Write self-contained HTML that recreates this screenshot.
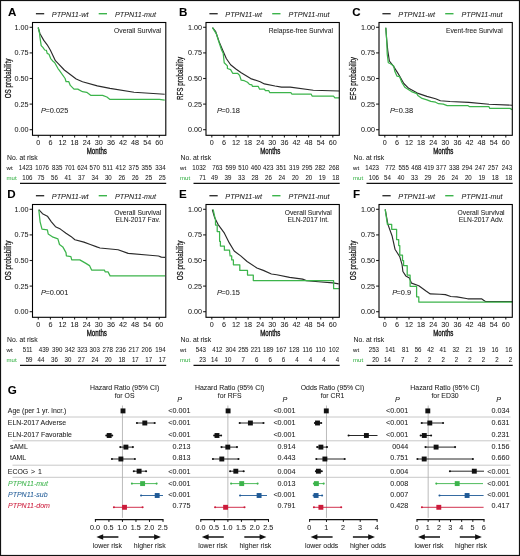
<!DOCTYPE html>
<html><head><meta charset="utf-8"><style>
html,body{margin:0;padding:0;background:#fff;}
svg{display:block;will-change:transform;}
text{font-family:"Liberation Sans",sans-serif;}
</style></head><body>
<svg width="520" height="556" viewBox="0 0 520 556" font-family="Liberation Sans, sans-serif">
<rect x="0" y="0" width="520" height="556" fill="#fff"/>
<text x="7.90" y="16.40" font-size="11.6" fill="#000" font-weight="bold" stroke="#000" stroke-width="0.05">A</text>
<line x1="35.90" y1="13.70" x2="44.20" y2="13.70" stroke="#333" stroke-width="1.4"/>
<text x="51.80" y="16.70" font-size="7.3" fill="#222" font-style="italic" stroke="#222" stroke-width="0.05">PTPN11-wt</text>
<line x1="98.70" y1="13.70" x2="107.00" y2="13.70" stroke="#3cb44b" stroke-width="1.4"/>
<text x="115.00" y="16.70" font-size="7.2" fill="#222" font-style="italic" stroke="#222" stroke-width="0.05">PTPN11-mut</text>
<line x1="29.60" y1="27.30" x2="32.40" y2="27.30" stroke="#222" stroke-width="1.1"/>
<text x="28.60" y="29.80" font-size="7.2" text-anchor="end" fill="#222" stroke="#222" stroke-width="0.05">1.00</text>
<line x1="29.60" y1="52.90" x2="32.40" y2="52.90" stroke="#222" stroke-width="1.1"/>
<text x="28.60" y="55.40" font-size="7.2" text-anchor="end" fill="#222" stroke="#222" stroke-width="0.05">0.75</text>
<line x1="29.60" y1="78.50" x2="32.40" y2="78.50" stroke="#222" stroke-width="1.1"/>
<text x="28.60" y="81.00" font-size="7.2" text-anchor="end" fill="#222" stroke="#222" stroke-width="0.05">0.50</text>
<line x1="29.60" y1="104.10" x2="32.40" y2="104.10" stroke="#222" stroke-width="1.1"/>
<text x="28.60" y="106.60" font-size="7.2" text-anchor="end" fill="#222" stroke="#222" stroke-width="0.05">0.25</text>
<line x1="29.60" y1="129.70" x2="32.40" y2="129.70" stroke="#222" stroke-width="1.1"/>
<text x="28.60" y="132.20" font-size="7.2" text-anchor="end" fill="#222" stroke="#222" stroke-width="0.05">0.00</text>
<line x1="38.30" y1="135.30" x2="38.30" y2="137.40" stroke="#222" stroke-width="1.1"/>
<text x="38.30" y="144.70" font-size="7.2" text-anchor="middle" fill="#222" stroke="#222" stroke-width="0.05">0</text>
<line x1="50.40" y1="135.30" x2="50.40" y2="137.40" stroke="#222" stroke-width="1.1"/>
<text x="50.40" y="144.70" font-size="7.2" text-anchor="middle" fill="#222" stroke="#222" stroke-width="0.05">6</text>
<line x1="62.50" y1="135.30" x2="62.50" y2="137.40" stroke="#222" stroke-width="1.1"/>
<text x="62.50" y="144.70" font-size="7.2" text-anchor="middle" fill="#222" stroke="#222" stroke-width="0.05">12</text>
<line x1="74.60" y1="135.30" x2="74.60" y2="137.40" stroke="#222" stroke-width="1.1"/>
<text x="74.60" y="144.70" font-size="7.2" text-anchor="middle" fill="#222" stroke="#222" stroke-width="0.05">18</text>
<line x1="86.70" y1="135.30" x2="86.70" y2="137.40" stroke="#222" stroke-width="1.1"/>
<text x="86.70" y="144.70" font-size="7.2" text-anchor="middle" fill="#222" stroke="#222" stroke-width="0.05">24</text>
<line x1="98.80" y1="135.30" x2="98.80" y2="137.40" stroke="#222" stroke-width="1.1"/>
<text x="98.80" y="144.70" font-size="7.2" text-anchor="middle" fill="#222" stroke="#222" stroke-width="0.05">30</text>
<line x1="110.90" y1="135.30" x2="110.90" y2="137.40" stroke="#222" stroke-width="1.1"/>
<text x="110.90" y="144.70" font-size="7.2" text-anchor="middle" fill="#222" stroke="#222" stroke-width="0.05">36</text>
<line x1="123.00" y1="135.30" x2="123.00" y2="137.40" stroke="#222" stroke-width="1.1"/>
<text x="123.00" y="144.70" font-size="7.2" text-anchor="middle" fill="#222" stroke="#222" stroke-width="0.05">42</text>
<line x1="135.10" y1="135.30" x2="135.10" y2="137.40" stroke="#222" stroke-width="1.1"/>
<text x="135.10" y="144.70" font-size="7.2" text-anchor="middle" fill="#222" stroke="#222" stroke-width="0.05">48</text>
<line x1="147.20" y1="135.30" x2="147.20" y2="137.40" stroke="#222" stroke-width="1.1"/>
<text x="147.20" y="144.70" font-size="7.2" text-anchor="middle" fill="#222" stroke="#222" stroke-width="0.05">54</text>
<line x1="159.30" y1="135.30" x2="159.30" y2="137.40" stroke="#222" stroke-width="1.1"/>
<text x="159.30" y="144.70" font-size="7.2" text-anchor="middle" fill="#222" stroke="#222" stroke-width="0.05">60</text>
<text transform="translate(96.80,153.90) scale(0.655,1)" font-size="9.4" text-anchor="middle" fill="#111" stroke="#111" stroke-width="0.38" stroke="#111" stroke-width="0.05">Months</text>
<text transform="translate(11.00,78.50) rotate(-90) scale(0.645,1)" font-size="9.8" text-anchor="middle" fill="#111" stroke="#111" stroke-width="0.25" stroke="#111" stroke-width="0.05">OS probability</text>
<polyline points="38.20,27.50 39.90,33.50 43.80,40.40 47.20,44.80 50.30,50.00 55.40,60.70 58.50,63.80 64.30,70.00 76.20,79.00 82.50,81.70 97.30,85.90 110.00,88.40 134.00,92.20 164.70,94.30" fill="none" stroke="#2a2a2a" stroke-width="1.15" stroke-linejoin="round"/>
<polyline points="38.20,27.50 39.60,33.50 39.90,37.00 41.20,45.60 42.90,47.40 44.70,50.00 46.40,50.40 47.20,53.40 49.00,54.30 50.70,58.60 52.90,61.20 54.60,62.50 58.00,68.50 59.20,70.10 65.10,78.50 66.10,81.70 68.80,81.70 70.30,85.40 74.00,89.10 77.80,89.10 82.50,91.70 86.70,92.30 91.00,95.40 102.60,95.40 106.90,97.00 110.00,99.40 159.40,99.40 164.70,100.20" fill="none" stroke="#3cb44b" stroke-width="1.25" stroke-linejoin="round"/>
<rect x="32.50" y="22.50" width="133.3" height="112.8" fill="none" stroke="#000" stroke-width="1.1"/>
<text x="137.60" y="32.50" font-size="6.72" text-anchor="middle" fill="#222" stroke="#222" stroke-width="0.05">Overall Survival</text>
<text x="41.10" y="112.50" font-size="7.4" fill="#222" stroke="#222" stroke-width="0.05"><tspan font-style="italic">P</tspan><tspan dx="-0.6">=0.025</tspan></text>
<text x="7.00" y="159.80" font-size="6.8" fill="#222" stroke="#222" stroke-width="0.05">No. at risk</text>
<text x="6.60" y="169.50" font-size="6.0" fill="#222" stroke="#222" stroke-width="0.05">wt</text>
<text x="6.60" y="179.80" font-size="6.0" fill="#3cb44b" stroke="#3cb44b" stroke-width="0.05">mut</text>
<text transform="translate(32.50,169.50) scale(0.93,1)" font-size="6.6" text-anchor="end" fill="#222" stroke="#222" stroke-width="0.05">1423</text>
<text transform="translate(49.00,169.50) scale(0.93,1)" font-size="6.6" text-anchor="end" fill="#222" stroke="#222" stroke-width="0.05">1076</text>
<text transform="translate(62.30,169.50) scale(0.93,1)" font-size="6.6" text-anchor="end" fill="#222" stroke="#222" stroke-width="0.05">835</text>
<text transform="translate(75.00,169.50) scale(0.93,1)" font-size="6.6" text-anchor="end" fill="#222" stroke="#222" stroke-width="0.05">701</text>
<text transform="translate(87.50,169.50) scale(0.93,1)" font-size="6.6" text-anchor="end" fill="#222" stroke="#222" stroke-width="0.05">624</text>
<text transform="translate(99.80,169.50) scale(0.93,1)" font-size="6.6" text-anchor="end" fill="#222" stroke="#222" stroke-width="0.05">570</text>
<text transform="translate(112.80,169.50) scale(0.93,1)" font-size="6.6" text-anchor="end" fill="#222" stroke="#222" stroke-width="0.05">511</text>
<text transform="translate(125.80,169.50) scale(0.93,1)" font-size="6.6" text-anchor="end" fill="#222" stroke="#222" stroke-width="0.05">412</text>
<text transform="translate(138.80,169.50) scale(0.93,1)" font-size="6.6" text-anchor="end" fill="#222" stroke="#222" stroke-width="0.05">375</text>
<text transform="translate(151.80,169.50) scale(0.93,1)" font-size="6.6" text-anchor="end" fill="#222" stroke="#222" stroke-width="0.05">355</text>
<text transform="translate(165.60,169.50) scale(0.93,1)" font-size="6.6" text-anchor="end" fill="#222" stroke="#222" stroke-width="0.05">334</text>
<text transform="translate(32.50,179.80) scale(0.93,1)" font-size="6.6" text-anchor="end" fill="#222" stroke="#222" stroke-width="0.05">106</text>
<text transform="translate(44.30,179.80) scale(0.93,1)" font-size="6.6" text-anchor="end" fill="#222" stroke="#222" stroke-width="0.05">75</text>
<text transform="translate(57.80,179.80) scale(0.93,1)" font-size="6.6" text-anchor="end" fill="#222" stroke="#222" stroke-width="0.05">56</text>
<text transform="translate(71.30,179.80) scale(0.93,1)" font-size="6.6" text-anchor="end" fill="#222" stroke="#222" stroke-width="0.05">41</text>
<text transform="translate(84.90,179.80) scale(0.93,1)" font-size="6.6" text-anchor="end" fill="#222" stroke="#222" stroke-width="0.05">37</text>
<text transform="translate(98.30,179.80) scale(0.93,1)" font-size="6.6" text-anchor="end" fill="#222" stroke="#222" stroke-width="0.05">34</text>
<text transform="translate(111.70,179.80) scale(0.93,1)" font-size="6.6" text-anchor="end" fill="#222" stroke="#222" stroke-width="0.05">30</text>
<text transform="translate(125.20,179.80) scale(0.93,1)" font-size="6.6" text-anchor="end" fill="#222" stroke="#222" stroke-width="0.05">26</text>
<text transform="translate(138.70,179.80) scale(0.93,1)" font-size="6.6" text-anchor="end" fill="#222" stroke="#222" stroke-width="0.05">26</text>
<text transform="translate(152.10,179.80) scale(0.93,1)" font-size="6.6" text-anchor="end" fill="#222" stroke="#222" stroke-width="0.05">25</text>
<text transform="translate(165.60,179.80) scale(0.93,1)" font-size="6.6" text-anchor="end" fill="#222" stroke="#222" stroke-width="0.05">25</text>
<line x1="20.00" y1="183.40" x2="166.20" y2="183.40" stroke="#111" stroke-width="1.1"/>
<text x="179.10" y="16.40" font-size="11.6" fill="#000" font-weight="bold" stroke="#000" stroke-width="0.05">B</text>
<line x1="209.40" y1="13.70" x2="217.70" y2="13.70" stroke="#333" stroke-width="1.4"/>
<text x="225.30" y="16.70" font-size="7.3" fill="#222" font-style="italic" stroke="#222" stroke-width="0.05">PTPN11-wt</text>
<line x1="272.20" y1="13.70" x2="280.50" y2="13.70" stroke="#3cb44b" stroke-width="1.4"/>
<text x="288.50" y="16.70" font-size="7.2" fill="#222" font-style="italic" stroke="#222" stroke-width="0.05">PTPN11-mut</text>
<line x1="203.10" y1="27.30" x2="205.90" y2="27.30" stroke="#222" stroke-width="1.1"/>
<text x="202.10" y="29.80" font-size="7.2" text-anchor="end" fill="#222" stroke="#222" stroke-width="0.05">1.00</text>
<line x1="203.10" y1="52.90" x2="205.90" y2="52.90" stroke="#222" stroke-width="1.1"/>
<text x="202.10" y="55.40" font-size="7.2" text-anchor="end" fill="#222" stroke="#222" stroke-width="0.05">0.75</text>
<line x1="203.10" y1="78.50" x2="205.90" y2="78.50" stroke="#222" stroke-width="1.1"/>
<text x="202.10" y="81.00" font-size="7.2" text-anchor="end" fill="#222" stroke="#222" stroke-width="0.05">0.50</text>
<line x1="203.10" y1="104.10" x2="205.90" y2="104.10" stroke="#222" stroke-width="1.1"/>
<text x="202.10" y="106.60" font-size="7.2" text-anchor="end" fill="#222" stroke="#222" stroke-width="0.05">0.25</text>
<line x1="203.10" y1="129.70" x2="205.90" y2="129.70" stroke="#222" stroke-width="1.1"/>
<text x="202.10" y="132.20" font-size="7.2" text-anchor="end" fill="#222" stroke="#222" stroke-width="0.05">0.00</text>
<line x1="211.80" y1="135.30" x2="211.80" y2="137.40" stroke="#222" stroke-width="1.1"/>
<text x="211.80" y="144.70" font-size="7.2" text-anchor="middle" fill="#222" stroke="#222" stroke-width="0.05">0</text>
<line x1="223.90" y1="135.30" x2="223.90" y2="137.40" stroke="#222" stroke-width="1.1"/>
<text x="223.90" y="144.70" font-size="7.2" text-anchor="middle" fill="#222" stroke="#222" stroke-width="0.05">6</text>
<line x1="236.00" y1="135.30" x2="236.00" y2="137.40" stroke="#222" stroke-width="1.1"/>
<text x="236.00" y="144.70" font-size="7.2" text-anchor="middle" fill="#222" stroke="#222" stroke-width="0.05">12</text>
<line x1="248.10" y1="135.30" x2="248.10" y2="137.40" stroke="#222" stroke-width="1.1"/>
<text x="248.10" y="144.70" font-size="7.2" text-anchor="middle" fill="#222" stroke="#222" stroke-width="0.05">18</text>
<line x1="260.20" y1="135.30" x2="260.20" y2="137.40" stroke="#222" stroke-width="1.1"/>
<text x="260.20" y="144.70" font-size="7.2" text-anchor="middle" fill="#222" stroke="#222" stroke-width="0.05">24</text>
<line x1="272.30" y1="135.30" x2="272.30" y2="137.40" stroke="#222" stroke-width="1.1"/>
<text x="272.30" y="144.70" font-size="7.2" text-anchor="middle" fill="#222" stroke="#222" stroke-width="0.05">30</text>
<line x1="284.40" y1="135.30" x2="284.40" y2="137.40" stroke="#222" stroke-width="1.1"/>
<text x="284.40" y="144.70" font-size="7.2" text-anchor="middle" fill="#222" stroke="#222" stroke-width="0.05">36</text>
<line x1="296.50" y1="135.30" x2="296.50" y2="137.40" stroke="#222" stroke-width="1.1"/>
<text x="296.50" y="144.70" font-size="7.2" text-anchor="middle" fill="#222" stroke="#222" stroke-width="0.05">42</text>
<line x1="308.60" y1="135.30" x2="308.60" y2="137.40" stroke="#222" stroke-width="1.1"/>
<text x="308.60" y="144.70" font-size="7.2" text-anchor="middle" fill="#222" stroke="#222" stroke-width="0.05">48</text>
<line x1="320.70" y1="135.30" x2="320.70" y2="137.40" stroke="#222" stroke-width="1.1"/>
<text x="320.70" y="144.70" font-size="7.2" text-anchor="middle" fill="#222" stroke="#222" stroke-width="0.05">54</text>
<line x1="332.80" y1="135.30" x2="332.80" y2="137.40" stroke="#222" stroke-width="1.1"/>
<text x="332.80" y="144.70" font-size="7.2" text-anchor="middle" fill="#222" stroke="#222" stroke-width="0.05">60</text>
<text transform="translate(270.30,153.90) scale(0.655,1)" font-size="9.4" text-anchor="middle" fill="#111" stroke="#111" stroke-width="0.38" stroke="#111" stroke-width="0.05">Months</text>
<text transform="translate(183.30,78.50) rotate(-90) scale(0.645,1)" font-size="9.8" text-anchor="middle" fill="#111" stroke="#111" stroke-width="0.25" stroke="#111" stroke-width="0.05">RFS probability</text>
<polyline points="212.50,27.70 215.70,31.70 219.00,41.40 222.60,50.00 226.30,58.50 230.60,64.80 235.90,69.00 241.20,72.80 250.70,78.60 260.20,81.70 264.40,83.90 275.00,86.00 281.50,87.10 290.20,87.10 313.30,90.30 339.20,91.00" fill="none" stroke="#2a2a2a" stroke-width="1.15" stroke-linejoin="round"/>
<polyline points="212.50,27.70 216.50,34.20 219.00,42.30 221.60,50.00 223.20,53.20 224.20,62.70 227.40,65.90 227.40,68.50 230.60,69.60 232.70,73.30 237.50,73.30 239.60,75.40 241.20,80.20 244.30,80.70 247.50,82.30 249.50,84.40 251.90,84.90 252.40,86.30 258.20,86.30 259.60,89.20 264.40,89.20 265.40,90.70 268.80,90.70 269.70,92.60 290.90,92.60 291.80,94.00 311.10,94.00 312.10,96.10 333.50,96.10 334.90,97.80 339.20,97.80" fill="none" stroke="#3cb44b" stroke-width="1.25" stroke-linejoin="round"/>
<rect x="206.00" y="22.50" width="133.3" height="112.8" fill="none" stroke="#000" stroke-width="1.1"/>
<text x="300.85" y="32.50" font-size="6.72" text-anchor="middle" fill="#222" stroke="#222" stroke-width="0.05">Relapse-free Survival</text>
<text x="216.90" y="112.50" font-size="7.4" fill="#222" stroke="#222" stroke-width="0.05"><tspan font-style="italic">P</tspan><tspan dx="-0.6">=0.18</tspan></text>
<text x="180.50" y="159.80" font-size="6.8" fill="#222" stroke="#222" stroke-width="0.05">No. at risk</text>
<text x="180.10" y="169.50" font-size="6.0" fill="#222" stroke="#222" stroke-width="0.05">wt</text>
<text x="180.10" y="179.80" font-size="6.0" fill="#3cb44b" stroke="#3cb44b" stroke-width="0.05">mut</text>
<text transform="translate(206.00,169.50) scale(0.93,1)" font-size="6.6" text-anchor="end" fill="#222" stroke="#222" stroke-width="0.05">1032</text>
<text transform="translate(222.50,169.50) scale(0.93,1)" font-size="6.6" text-anchor="end" fill="#222" stroke="#222" stroke-width="0.05">763</text>
<text transform="translate(235.80,169.50) scale(0.93,1)" font-size="6.6" text-anchor="end" fill="#222" stroke="#222" stroke-width="0.05">599</text>
<text transform="translate(248.50,169.50) scale(0.93,1)" font-size="6.6" text-anchor="end" fill="#222" stroke="#222" stroke-width="0.05">510</text>
<text transform="translate(261.00,169.50) scale(0.93,1)" font-size="6.6" text-anchor="end" fill="#222" stroke="#222" stroke-width="0.05">460</text>
<text transform="translate(273.30,169.50) scale(0.93,1)" font-size="6.6" text-anchor="end" fill="#222" stroke="#222" stroke-width="0.05">423</text>
<text transform="translate(286.30,169.50) scale(0.93,1)" font-size="6.6" text-anchor="end" fill="#222" stroke="#222" stroke-width="0.05">351</text>
<text transform="translate(299.30,169.50) scale(0.93,1)" font-size="6.6" text-anchor="end" fill="#222" stroke="#222" stroke-width="0.05">319</text>
<text transform="translate(312.30,169.50) scale(0.93,1)" font-size="6.6" text-anchor="end" fill="#222" stroke="#222" stroke-width="0.05">295</text>
<text transform="translate(325.30,169.50) scale(0.93,1)" font-size="6.6" text-anchor="end" fill="#222" stroke="#222" stroke-width="0.05">282</text>
<text transform="translate(339.10,169.50) scale(0.93,1)" font-size="6.6" text-anchor="end" fill="#222" stroke="#222" stroke-width="0.05">268</text>
<text transform="translate(206.00,179.80) scale(0.93,1)" font-size="6.6" text-anchor="end" fill="#222" stroke="#222" stroke-width="0.05">71</text>
<text transform="translate(217.80,179.80) scale(0.93,1)" font-size="6.6" text-anchor="end" fill="#222" stroke="#222" stroke-width="0.05">49</text>
<text transform="translate(231.30,179.80) scale(0.93,1)" font-size="6.6" text-anchor="end" fill="#222" stroke="#222" stroke-width="0.05">39</text>
<text transform="translate(244.80,179.80) scale(0.93,1)" font-size="6.6" text-anchor="end" fill="#222" stroke="#222" stroke-width="0.05">33</text>
<text transform="translate(258.40,179.80) scale(0.93,1)" font-size="6.6" text-anchor="end" fill="#222" stroke="#222" stroke-width="0.05">28</text>
<text transform="translate(271.80,179.80) scale(0.93,1)" font-size="6.6" text-anchor="end" fill="#222" stroke="#222" stroke-width="0.05">26</text>
<text transform="translate(285.20,179.80) scale(0.93,1)" font-size="6.6" text-anchor="end" fill="#222" stroke="#222" stroke-width="0.05">24</text>
<text transform="translate(298.70,179.80) scale(0.93,1)" font-size="6.6" text-anchor="end" fill="#222" stroke="#222" stroke-width="0.05">20</text>
<text transform="translate(312.20,179.80) scale(0.93,1)" font-size="6.6" text-anchor="end" fill="#222" stroke="#222" stroke-width="0.05">20</text>
<text transform="translate(325.60,179.80) scale(0.93,1)" font-size="6.6" text-anchor="end" fill="#222" stroke="#222" stroke-width="0.05">19</text>
<text transform="translate(339.10,179.80) scale(0.93,1)" font-size="6.6" text-anchor="end" fill="#222" stroke="#222" stroke-width="0.05">18</text>
<line x1="193.50" y1="183.40" x2="339.70" y2="183.40" stroke="#111" stroke-width="1.1"/>
<text x="352.20" y="16.40" font-size="11.6" fill="#000" font-weight="bold" stroke="#000" stroke-width="0.05">C</text>
<line x1="382.40" y1="13.70" x2="390.70" y2="13.70" stroke="#333" stroke-width="1.4"/>
<text x="398.30" y="16.70" font-size="7.3" fill="#222" font-style="italic" stroke="#222" stroke-width="0.05">PTPN11-wt</text>
<line x1="445.20" y1="13.70" x2="453.50" y2="13.70" stroke="#3cb44b" stroke-width="1.4"/>
<text x="461.50" y="16.70" font-size="7.2" fill="#222" font-style="italic" stroke="#222" stroke-width="0.05">PTPN11-mut</text>
<line x1="376.10" y1="27.30" x2="378.90" y2="27.30" stroke="#222" stroke-width="1.1"/>
<text x="375.10" y="29.80" font-size="7.2" text-anchor="end" fill="#222" stroke="#222" stroke-width="0.05">1.00</text>
<line x1="376.10" y1="52.90" x2="378.90" y2="52.90" stroke="#222" stroke-width="1.1"/>
<text x="375.10" y="55.40" font-size="7.2" text-anchor="end" fill="#222" stroke="#222" stroke-width="0.05">0.75</text>
<line x1="376.10" y1="78.50" x2="378.90" y2="78.50" stroke="#222" stroke-width="1.1"/>
<text x="375.10" y="81.00" font-size="7.2" text-anchor="end" fill="#222" stroke="#222" stroke-width="0.05">0.50</text>
<line x1="376.10" y1="104.10" x2="378.90" y2="104.10" stroke="#222" stroke-width="1.1"/>
<text x="375.10" y="106.60" font-size="7.2" text-anchor="end" fill="#222" stroke="#222" stroke-width="0.05">0.25</text>
<line x1="376.10" y1="129.70" x2="378.90" y2="129.70" stroke="#222" stroke-width="1.1"/>
<text x="375.10" y="132.20" font-size="7.2" text-anchor="end" fill="#222" stroke="#222" stroke-width="0.05">0.00</text>
<line x1="384.80" y1="135.30" x2="384.80" y2="137.40" stroke="#222" stroke-width="1.1"/>
<text x="384.80" y="144.70" font-size="7.2" text-anchor="middle" fill="#222" stroke="#222" stroke-width="0.05">0</text>
<line x1="396.90" y1="135.30" x2="396.90" y2="137.40" stroke="#222" stroke-width="1.1"/>
<text x="396.90" y="144.70" font-size="7.2" text-anchor="middle" fill="#222" stroke="#222" stroke-width="0.05">6</text>
<line x1="409.00" y1="135.30" x2="409.00" y2="137.40" stroke="#222" stroke-width="1.1"/>
<text x="409.00" y="144.70" font-size="7.2" text-anchor="middle" fill="#222" stroke="#222" stroke-width="0.05">12</text>
<line x1="421.10" y1="135.30" x2="421.10" y2="137.40" stroke="#222" stroke-width="1.1"/>
<text x="421.10" y="144.70" font-size="7.2" text-anchor="middle" fill="#222" stroke="#222" stroke-width="0.05">18</text>
<line x1="433.20" y1="135.30" x2="433.20" y2="137.40" stroke="#222" stroke-width="1.1"/>
<text x="433.20" y="144.70" font-size="7.2" text-anchor="middle" fill="#222" stroke="#222" stroke-width="0.05">24</text>
<line x1="445.30" y1="135.30" x2="445.30" y2="137.40" stroke="#222" stroke-width="1.1"/>
<text x="445.30" y="144.70" font-size="7.2" text-anchor="middle" fill="#222" stroke="#222" stroke-width="0.05">30</text>
<line x1="457.40" y1="135.30" x2="457.40" y2="137.40" stroke="#222" stroke-width="1.1"/>
<text x="457.40" y="144.70" font-size="7.2" text-anchor="middle" fill="#222" stroke="#222" stroke-width="0.05">36</text>
<line x1="469.50" y1="135.30" x2="469.50" y2="137.40" stroke="#222" stroke-width="1.1"/>
<text x="469.50" y="144.70" font-size="7.2" text-anchor="middle" fill="#222" stroke="#222" stroke-width="0.05">42</text>
<line x1="481.60" y1="135.30" x2="481.60" y2="137.40" stroke="#222" stroke-width="1.1"/>
<text x="481.60" y="144.70" font-size="7.2" text-anchor="middle" fill="#222" stroke="#222" stroke-width="0.05">48</text>
<line x1="493.70" y1="135.30" x2="493.70" y2="137.40" stroke="#222" stroke-width="1.1"/>
<text x="493.70" y="144.70" font-size="7.2" text-anchor="middle" fill="#222" stroke="#222" stroke-width="0.05">54</text>
<line x1="505.80" y1="135.30" x2="505.80" y2="137.40" stroke="#222" stroke-width="1.1"/>
<text x="505.80" y="144.70" font-size="7.2" text-anchor="middle" fill="#222" stroke="#222" stroke-width="0.05">60</text>
<text transform="translate(443.30,153.90) scale(0.655,1)" font-size="9.4" text-anchor="middle" fill="#111" stroke="#111" stroke-width="0.38" stroke="#111" stroke-width="0.05">Months</text>
<text transform="translate(356.30,78.50) rotate(-90) scale(0.645,1)" font-size="9.8" text-anchor="middle" fill="#111" stroke="#111" stroke-width="0.25" stroke="#111" stroke-width="0.05">EFS probability</text>
<polyline points="385.80,27.70 386.70,40.00 387.80,50.80 389.40,61.00 393.20,65.90 398.00,73.40 400.00,76.70 403.80,83.50 408.70,88.30 417.30,93.10 426.90,96.40 435.60,98.80 440.40,100.80 450.00,101.50 468.80,102.40 489.00,104.20 512.10,105.20" fill="none" stroke="#2a2a2a" stroke-width="1.15" stroke-linejoin="round"/>
<polyline points="385.80,27.70 386.70,40.00 387.20,54.00 388.30,62.70 390.50,63.70 393.70,65.90 394.80,71.30 396.90,76.10 399.60,76.70 401.90,82.50 404.80,87.30 408.70,89.70 411.50,91.60 416.80,93.60 417.80,95.50 422.10,98.40 426.90,99.80 430.80,101.30 435.60,102.20 438.50,103.70 443.30,104.10 447.20,105.70 468.10,105.70 469.60,106.70 489.00,106.70 489.80,108.40 510.00,108.40 512.10,109.60" fill="none" stroke="#3cb44b" stroke-width="1.25" stroke-linejoin="round"/>
<rect x="379.00" y="22.50" width="133.3" height="112.8" fill="none" stroke="#000" stroke-width="1.1"/>
<text x="474.30" y="32.50" font-size="6.72" text-anchor="middle" fill="#222" stroke="#222" stroke-width="0.05">Event-free Survival</text>
<text x="390.00" y="112.50" font-size="7.4" fill="#222" stroke="#222" stroke-width="0.05"><tspan font-style="italic">P</tspan><tspan dx="-0.6">=0.38</tspan></text>
<text x="353.50" y="159.80" font-size="6.8" fill="#222" stroke="#222" stroke-width="0.05">No. at risk</text>
<text x="353.10" y="169.50" font-size="6.0" fill="#222" stroke="#222" stroke-width="0.05">wt</text>
<text x="353.10" y="179.80" font-size="6.0" fill="#3cb44b" stroke="#3cb44b" stroke-width="0.05">mut</text>
<text transform="translate(379.00,169.50) scale(0.93,1)" font-size="6.6" text-anchor="end" fill="#222" stroke="#222" stroke-width="0.05">1423</text>
<text transform="translate(395.50,169.50) scale(0.93,1)" font-size="6.6" text-anchor="end" fill="#222" stroke="#222" stroke-width="0.05">772</text>
<text transform="translate(408.80,169.50) scale(0.93,1)" font-size="6.6" text-anchor="end" fill="#222" stroke="#222" stroke-width="0.05">555</text>
<text transform="translate(421.50,169.50) scale(0.93,1)" font-size="6.6" text-anchor="end" fill="#222" stroke="#222" stroke-width="0.05">468</text>
<text transform="translate(434.00,169.50) scale(0.93,1)" font-size="6.6" text-anchor="end" fill="#222" stroke="#222" stroke-width="0.05">419</text>
<text transform="translate(446.30,169.50) scale(0.93,1)" font-size="6.6" text-anchor="end" fill="#222" stroke="#222" stroke-width="0.05">377</text>
<text transform="translate(459.30,169.50) scale(0.93,1)" font-size="6.6" text-anchor="end" fill="#222" stroke="#222" stroke-width="0.05">338</text>
<text transform="translate(472.30,169.50) scale(0.93,1)" font-size="6.6" text-anchor="end" fill="#222" stroke="#222" stroke-width="0.05">294</text>
<text transform="translate(485.30,169.50) scale(0.93,1)" font-size="6.6" text-anchor="end" fill="#222" stroke="#222" stroke-width="0.05">247</text>
<text transform="translate(498.30,169.50) scale(0.93,1)" font-size="6.6" text-anchor="end" fill="#222" stroke="#222" stroke-width="0.05">257</text>
<text transform="translate(512.10,169.50) scale(0.93,1)" font-size="6.6" text-anchor="end" fill="#222" stroke="#222" stroke-width="0.05">243</text>
<text transform="translate(379.00,179.80) scale(0.93,1)" font-size="6.6" text-anchor="end" fill="#222" stroke="#222" stroke-width="0.05">106</text>
<text transform="translate(390.80,179.80) scale(0.93,1)" font-size="6.6" text-anchor="end" fill="#222" stroke="#222" stroke-width="0.05">54</text>
<text transform="translate(404.30,179.80) scale(0.93,1)" font-size="6.6" text-anchor="end" fill="#222" stroke="#222" stroke-width="0.05">40</text>
<text transform="translate(417.80,179.80) scale(0.93,1)" font-size="6.6" text-anchor="end" fill="#222" stroke="#222" stroke-width="0.05">33</text>
<text transform="translate(431.40,179.80) scale(0.93,1)" font-size="6.6" text-anchor="end" fill="#222" stroke="#222" stroke-width="0.05">29</text>
<text transform="translate(444.80,179.80) scale(0.93,1)" font-size="6.6" text-anchor="end" fill="#222" stroke="#222" stroke-width="0.05">26</text>
<text transform="translate(458.20,179.80) scale(0.93,1)" font-size="6.6" text-anchor="end" fill="#222" stroke="#222" stroke-width="0.05">24</text>
<text transform="translate(471.70,179.80) scale(0.93,1)" font-size="6.6" text-anchor="end" fill="#222" stroke="#222" stroke-width="0.05">20</text>
<text transform="translate(485.20,179.80) scale(0.93,1)" font-size="6.6" text-anchor="end" fill="#222" stroke="#222" stroke-width="0.05">19</text>
<text transform="translate(498.60,179.80) scale(0.93,1)" font-size="6.6" text-anchor="end" fill="#222" stroke="#222" stroke-width="0.05">18</text>
<text transform="translate(512.10,179.80) scale(0.93,1)" font-size="6.6" text-anchor="end" fill="#222" stroke="#222" stroke-width="0.05">18</text>
<line x1="366.50" y1="183.40" x2="512.70" y2="183.40" stroke="#111" stroke-width="1.1"/>
<text x="7.30" y="198.40" font-size="11.6" fill="#000" font-weight="bold" stroke="#000" stroke-width="0.05">D</text>
<line x1="35.90" y1="195.70" x2="44.20" y2="195.70" stroke="#333" stroke-width="1.4"/>
<text x="51.80" y="198.70" font-size="7.3" fill="#222" font-style="italic" stroke="#222" stroke-width="0.05">PTPN11-wt</text>
<line x1="98.70" y1="195.70" x2="107.00" y2="195.70" stroke="#3cb44b" stroke-width="1.4"/>
<text x="115.00" y="198.70" font-size="7.2" fill="#222" font-style="italic" stroke="#222" stroke-width="0.05">PTPN11-mut</text>
<line x1="29.60" y1="209.30" x2="32.40" y2="209.30" stroke="#222" stroke-width="1.1"/>
<text x="28.60" y="211.80" font-size="7.2" text-anchor="end" fill="#222" stroke="#222" stroke-width="0.05">1.00</text>
<line x1="29.60" y1="234.90" x2="32.40" y2="234.90" stroke="#222" stroke-width="1.1"/>
<text x="28.60" y="237.40" font-size="7.2" text-anchor="end" fill="#222" stroke="#222" stroke-width="0.05">0.75</text>
<line x1="29.60" y1="260.50" x2="32.40" y2="260.50" stroke="#222" stroke-width="1.1"/>
<text x="28.60" y="263.00" font-size="7.2" text-anchor="end" fill="#222" stroke="#222" stroke-width="0.05">0.50</text>
<line x1="29.60" y1="286.10" x2="32.40" y2="286.10" stroke="#222" stroke-width="1.1"/>
<text x="28.60" y="288.60" font-size="7.2" text-anchor="end" fill="#222" stroke="#222" stroke-width="0.05">0.25</text>
<line x1="29.60" y1="311.70" x2="32.40" y2="311.70" stroke="#222" stroke-width="1.1"/>
<text x="28.60" y="314.20" font-size="7.2" text-anchor="end" fill="#222" stroke="#222" stroke-width="0.05">0.00</text>
<line x1="38.30" y1="317.30" x2="38.30" y2="319.40" stroke="#222" stroke-width="1.1"/>
<text x="38.30" y="326.70" font-size="7.2" text-anchor="middle" fill="#222" stroke="#222" stroke-width="0.05">0</text>
<line x1="50.40" y1="317.30" x2="50.40" y2="319.40" stroke="#222" stroke-width="1.1"/>
<text x="50.40" y="326.70" font-size="7.2" text-anchor="middle" fill="#222" stroke="#222" stroke-width="0.05">6</text>
<line x1="62.50" y1="317.30" x2="62.50" y2="319.40" stroke="#222" stroke-width="1.1"/>
<text x="62.50" y="326.70" font-size="7.2" text-anchor="middle" fill="#222" stroke="#222" stroke-width="0.05">12</text>
<line x1="74.60" y1="317.30" x2="74.60" y2="319.40" stroke="#222" stroke-width="1.1"/>
<text x="74.60" y="326.70" font-size="7.2" text-anchor="middle" fill="#222" stroke="#222" stroke-width="0.05">18</text>
<line x1="86.70" y1="317.30" x2="86.70" y2="319.40" stroke="#222" stroke-width="1.1"/>
<text x="86.70" y="326.70" font-size="7.2" text-anchor="middle" fill="#222" stroke="#222" stroke-width="0.05">24</text>
<line x1="98.80" y1="317.30" x2="98.80" y2="319.40" stroke="#222" stroke-width="1.1"/>
<text x="98.80" y="326.70" font-size="7.2" text-anchor="middle" fill="#222" stroke="#222" stroke-width="0.05">30</text>
<line x1="110.90" y1="317.30" x2="110.90" y2="319.40" stroke="#222" stroke-width="1.1"/>
<text x="110.90" y="326.70" font-size="7.2" text-anchor="middle" fill="#222" stroke="#222" stroke-width="0.05">36</text>
<line x1="123.00" y1="317.30" x2="123.00" y2="319.40" stroke="#222" stroke-width="1.1"/>
<text x="123.00" y="326.70" font-size="7.2" text-anchor="middle" fill="#222" stroke="#222" stroke-width="0.05">42</text>
<line x1="135.10" y1="317.30" x2="135.10" y2="319.40" stroke="#222" stroke-width="1.1"/>
<text x="135.10" y="326.70" font-size="7.2" text-anchor="middle" fill="#222" stroke="#222" stroke-width="0.05">48</text>
<line x1="147.20" y1="317.30" x2="147.20" y2="319.40" stroke="#222" stroke-width="1.1"/>
<text x="147.20" y="326.70" font-size="7.2" text-anchor="middle" fill="#222" stroke="#222" stroke-width="0.05">54</text>
<line x1="159.30" y1="317.30" x2="159.30" y2="319.40" stroke="#222" stroke-width="1.1"/>
<text x="159.30" y="326.70" font-size="7.2" text-anchor="middle" fill="#222" stroke="#222" stroke-width="0.05">60</text>
<text transform="translate(96.80,335.90) scale(0.655,1)" font-size="9.4" text-anchor="middle" fill="#111" stroke="#111" stroke-width="0.38" stroke="#111" stroke-width="0.05">Months</text>
<text transform="translate(11.00,260.50) rotate(-90) scale(0.645,1)" font-size="9.8" text-anchor="middle" fill="#111" stroke="#111" stroke-width="0.25" stroke="#111" stroke-width="0.05">OS probability</text>
<polyline points="38.80,209.70 42.50,213.70 47.40,216.20 51.40,221.80 55.50,226.70 60.40,229.10 66.00,233.20 70.90,236.40 74.90,239.70 83.90,242.10 90.30,244.50 96.80,246.90 100.00,248.00 118.10,249.80 128.20,253.40 149.80,255.20 158.50,256.00 161.30,257.10 165.00,257.40" fill="none" stroke="#2a2a2a" stroke-width="1.15" stroke-linejoin="round"/>
<polyline points="38.80,209.70 40.10,221.80 42.00,229.10 47.40,229.90 48.20,234.00 53.10,237.20 57.90,238.80 59.50,244.50 62.80,246.90 66.00,252.60 66.40,255.90 70.90,256.70 71.70,259.90 79.80,259.90 85.50,263.10 89.50,265.60 91.60,270.10 104.40,270.10 105.10,271.80 108.00,271.80 110.10,275.90 165.00,275.90" fill="none" stroke="#3cb44b" stroke-width="1.25" stroke-linejoin="round"/>
<rect x="32.50" y="204.50" width="133.3" height="112.8" fill="none" stroke="#000" stroke-width="1.1"/>
<text x="137.80" y="214.50" font-size="6.72" text-anchor="middle" fill="#222" stroke="#222" stroke-width="0.05">Overall Survival</text>
<text x="137.80" y="222.00" font-size="6.72" text-anchor="middle" fill="#222" stroke="#222" stroke-width="0.05">ELN-2017 Fav.</text>
<text x="41.10" y="294.50" font-size="7.4" fill="#222" stroke="#222" stroke-width="0.05"><tspan font-style="italic">P</tspan><tspan dx="-0.6">=0.001</tspan></text>
<text x="7.00" y="341.80" font-size="6.8" fill="#222" stroke="#222" stroke-width="0.05">No. at risk</text>
<text x="6.60" y="351.50" font-size="6.0" fill="#222" stroke="#222" stroke-width="0.05">wt</text>
<text x="6.60" y="361.80" font-size="6.0" fill="#3cb44b" stroke="#3cb44b" stroke-width="0.05">mut</text>
<text transform="translate(32.50,351.50) scale(0.93,1)" font-size="6.6" text-anchor="end" fill="#222" stroke="#222" stroke-width="0.05">511</text>
<text transform="translate(49.00,351.50) scale(0.93,1)" font-size="6.6" text-anchor="end" fill="#222" stroke="#222" stroke-width="0.05">439</text>
<text transform="translate(62.30,351.50) scale(0.93,1)" font-size="6.6" text-anchor="end" fill="#222" stroke="#222" stroke-width="0.05">390</text>
<text transform="translate(75.00,351.50) scale(0.93,1)" font-size="6.6" text-anchor="end" fill="#222" stroke="#222" stroke-width="0.05">342</text>
<text transform="translate(87.50,351.50) scale(0.93,1)" font-size="6.6" text-anchor="end" fill="#222" stroke="#222" stroke-width="0.05">323</text>
<text transform="translate(99.80,351.50) scale(0.93,1)" font-size="6.6" text-anchor="end" fill="#222" stroke="#222" stroke-width="0.05">303</text>
<text transform="translate(112.80,351.50) scale(0.93,1)" font-size="6.6" text-anchor="end" fill="#222" stroke="#222" stroke-width="0.05">278</text>
<text transform="translate(125.80,351.50) scale(0.93,1)" font-size="6.6" text-anchor="end" fill="#222" stroke="#222" stroke-width="0.05">236</text>
<text transform="translate(138.80,351.50) scale(0.93,1)" font-size="6.6" text-anchor="end" fill="#222" stroke="#222" stroke-width="0.05">217</text>
<text transform="translate(151.80,351.50) scale(0.93,1)" font-size="6.6" text-anchor="end" fill="#222" stroke="#222" stroke-width="0.05">206</text>
<text transform="translate(165.60,351.50) scale(0.93,1)" font-size="6.6" text-anchor="end" fill="#222" stroke="#222" stroke-width="0.05">194</text>
<text transform="translate(32.50,361.80) scale(0.93,1)" font-size="6.6" text-anchor="end" fill="#222" stroke="#222" stroke-width="0.05">59</text>
<text transform="translate(44.30,361.80) scale(0.93,1)" font-size="6.6" text-anchor="end" fill="#222" stroke="#222" stroke-width="0.05">44</text>
<text transform="translate(57.80,361.80) scale(0.93,1)" font-size="6.6" text-anchor="end" fill="#222" stroke="#222" stroke-width="0.05">36</text>
<text transform="translate(71.30,361.80) scale(0.93,1)" font-size="6.6" text-anchor="end" fill="#222" stroke="#222" stroke-width="0.05">30</text>
<text transform="translate(84.90,361.80) scale(0.93,1)" font-size="6.6" text-anchor="end" fill="#222" stroke="#222" stroke-width="0.05">27</text>
<text transform="translate(98.30,361.80) scale(0.93,1)" font-size="6.6" text-anchor="end" fill="#222" stroke="#222" stroke-width="0.05">24</text>
<text transform="translate(111.70,361.80) scale(0.93,1)" font-size="6.6" text-anchor="end" fill="#222" stroke="#222" stroke-width="0.05">20</text>
<text transform="translate(125.20,361.80) scale(0.93,1)" font-size="6.6" text-anchor="end" fill="#222" stroke="#222" stroke-width="0.05">18</text>
<text transform="translate(138.70,361.80) scale(0.93,1)" font-size="6.6" text-anchor="end" fill="#222" stroke="#222" stroke-width="0.05">17</text>
<text transform="translate(152.10,361.80) scale(0.93,1)" font-size="6.6" text-anchor="end" fill="#222" stroke="#222" stroke-width="0.05">17</text>
<text transform="translate(165.60,361.80) scale(0.93,1)" font-size="6.6" text-anchor="end" fill="#222" stroke="#222" stroke-width="0.05">17</text>
<line x1="20.00" y1="365.40" x2="166.20" y2="365.40" stroke="#111" stroke-width="1.1"/>
<text x="179.10" y="198.40" font-size="11.6" fill="#000" font-weight="bold" stroke="#000" stroke-width="0.05">E</text>
<line x1="209.40" y1="195.70" x2="217.70" y2="195.70" stroke="#333" stroke-width="1.4"/>
<text x="225.30" y="198.70" font-size="7.3" fill="#222" font-style="italic" stroke="#222" stroke-width="0.05">PTPN11-wt</text>
<line x1="272.20" y1="195.70" x2="280.50" y2="195.70" stroke="#3cb44b" stroke-width="1.4"/>
<text x="288.50" y="198.70" font-size="7.2" fill="#222" font-style="italic" stroke="#222" stroke-width="0.05">PTPN11-mut</text>
<line x1="203.10" y1="209.30" x2="205.90" y2="209.30" stroke="#222" stroke-width="1.1"/>
<text x="202.10" y="211.80" font-size="7.2" text-anchor="end" fill="#222" stroke="#222" stroke-width="0.05">1.00</text>
<line x1="203.10" y1="234.90" x2="205.90" y2="234.90" stroke="#222" stroke-width="1.1"/>
<text x="202.10" y="237.40" font-size="7.2" text-anchor="end" fill="#222" stroke="#222" stroke-width="0.05">0.75</text>
<line x1="203.10" y1="260.50" x2="205.90" y2="260.50" stroke="#222" stroke-width="1.1"/>
<text x="202.10" y="263.00" font-size="7.2" text-anchor="end" fill="#222" stroke="#222" stroke-width="0.05">0.50</text>
<line x1="203.10" y1="286.10" x2="205.90" y2="286.10" stroke="#222" stroke-width="1.1"/>
<text x="202.10" y="288.60" font-size="7.2" text-anchor="end" fill="#222" stroke="#222" stroke-width="0.05">0.25</text>
<line x1="203.10" y1="311.70" x2="205.90" y2="311.70" stroke="#222" stroke-width="1.1"/>
<text x="202.10" y="314.20" font-size="7.2" text-anchor="end" fill="#222" stroke="#222" stroke-width="0.05">0.00</text>
<line x1="211.80" y1="317.30" x2="211.80" y2="319.40" stroke="#222" stroke-width="1.1"/>
<text x="211.80" y="326.70" font-size="7.2" text-anchor="middle" fill="#222" stroke="#222" stroke-width="0.05">0</text>
<line x1="223.90" y1="317.30" x2="223.90" y2="319.40" stroke="#222" stroke-width="1.1"/>
<text x="223.90" y="326.70" font-size="7.2" text-anchor="middle" fill="#222" stroke="#222" stroke-width="0.05">6</text>
<line x1="236.00" y1="317.30" x2="236.00" y2="319.40" stroke="#222" stroke-width="1.1"/>
<text x="236.00" y="326.70" font-size="7.2" text-anchor="middle" fill="#222" stroke="#222" stroke-width="0.05">12</text>
<line x1="248.10" y1="317.30" x2="248.10" y2="319.40" stroke="#222" stroke-width="1.1"/>
<text x="248.10" y="326.70" font-size="7.2" text-anchor="middle" fill="#222" stroke="#222" stroke-width="0.05">18</text>
<line x1="260.20" y1="317.30" x2="260.20" y2="319.40" stroke="#222" stroke-width="1.1"/>
<text x="260.20" y="326.70" font-size="7.2" text-anchor="middle" fill="#222" stroke="#222" stroke-width="0.05">24</text>
<line x1="272.30" y1="317.30" x2="272.30" y2="319.40" stroke="#222" stroke-width="1.1"/>
<text x="272.30" y="326.70" font-size="7.2" text-anchor="middle" fill="#222" stroke="#222" stroke-width="0.05">30</text>
<line x1="284.40" y1="317.30" x2="284.40" y2="319.40" stroke="#222" stroke-width="1.1"/>
<text x="284.40" y="326.70" font-size="7.2" text-anchor="middle" fill="#222" stroke="#222" stroke-width="0.05">36</text>
<line x1="296.50" y1="317.30" x2="296.50" y2="319.40" stroke="#222" stroke-width="1.1"/>
<text x="296.50" y="326.70" font-size="7.2" text-anchor="middle" fill="#222" stroke="#222" stroke-width="0.05">42</text>
<line x1="308.60" y1="317.30" x2="308.60" y2="319.40" stroke="#222" stroke-width="1.1"/>
<text x="308.60" y="326.70" font-size="7.2" text-anchor="middle" fill="#222" stroke="#222" stroke-width="0.05">48</text>
<line x1="320.70" y1="317.30" x2="320.70" y2="319.40" stroke="#222" stroke-width="1.1"/>
<text x="320.70" y="326.70" font-size="7.2" text-anchor="middle" fill="#222" stroke="#222" stroke-width="0.05">54</text>
<line x1="332.80" y1="317.30" x2="332.80" y2="319.40" stroke="#222" stroke-width="1.1"/>
<text x="332.80" y="326.70" font-size="7.2" text-anchor="middle" fill="#222" stroke="#222" stroke-width="0.05">60</text>
<text transform="translate(270.30,335.90) scale(0.655,1)" font-size="9.4" text-anchor="middle" fill="#111" stroke="#111" stroke-width="0.38" stroke="#111" stroke-width="0.05">Months</text>
<text transform="translate(183.30,260.50) rotate(-90) scale(0.645,1)" font-size="9.8" text-anchor="middle" fill="#111" stroke="#111" stroke-width="0.25" stroke="#111" stroke-width="0.05">OS probability</text>
<polyline points="212.30,209.70 214.70,217.80 218.00,224.30 224.40,233.20 229.30,242.90 234.20,251.00 240.70,255.90 247.10,261.50 256.90,268.00 263.30,270.40 271.40,274.00 276.70,274.80 289.60,277.40 302.60,279.10 306.20,280.60 318.50,281.70 332.90,282.90 338.70,283.90" fill="none" stroke="#2a2a2a" stroke-width="1.15" stroke-linejoin="round"/>
<polyline points="213.10,209.30 215.50,220.20 215.50,225.10 217.20,225.10 217.20,231.50 219.60,231.50 219.60,241.30 220.40,241.30 220.40,246.10 224.40,246.10 224.40,250.20 229.50,250.20 230.10,255.90 231.70,255.90 231.70,259.90 233.40,259.90 233.40,264.80 239.80,264.80 239.80,270.40 247.50,270.40 247.50,275.00 253.30,275.00 253.30,280.60 333.60,280.60 333.60,288.70 338.90,288.70" fill="none" stroke="#3cb44b" stroke-width="1.25" stroke-linejoin="round"/>
<rect x="206.00" y="204.50" width="133.3" height="112.8" fill="none" stroke="#000" stroke-width="1.1"/>
<text x="308.20" y="214.50" font-size="6.72" text-anchor="middle" fill="#222" stroke="#222" stroke-width="0.05">Overall Survival</text>
<text x="308.20" y="222.00" font-size="6.72" text-anchor="middle" fill="#222" stroke="#222" stroke-width="0.05">ELN-2017 Int.</text>
<text x="216.90" y="294.50" font-size="7.4" fill="#222" stroke="#222" stroke-width="0.05"><tspan font-style="italic">P</tspan><tspan dx="-0.6">=0.15</tspan></text>
<text x="180.50" y="341.80" font-size="6.8" fill="#222" stroke="#222" stroke-width="0.05">No. at risk</text>
<text x="180.10" y="351.50" font-size="6.0" fill="#222" stroke="#222" stroke-width="0.05">wt</text>
<text x="180.10" y="361.80" font-size="6.0" fill="#3cb44b" stroke="#3cb44b" stroke-width="0.05">mut</text>
<text transform="translate(206.00,351.50) scale(0.93,1)" font-size="6.6" text-anchor="end" fill="#222" stroke="#222" stroke-width="0.05">543</text>
<text transform="translate(222.50,351.50) scale(0.93,1)" font-size="6.6" text-anchor="end" fill="#222" stroke="#222" stroke-width="0.05">412</text>
<text transform="translate(235.80,351.50) scale(0.93,1)" font-size="6.6" text-anchor="end" fill="#222" stroke="#222" stroke-width="0.05">304</text>
<text transform="translate(248.50,351.50) scale(0.93,1)" font-size="6.6" text-anchor="end" fill="#222" stroke="#222" stroke-width="0.05">255</text>
<text transform="translate(261.00,351.50) scale(0.93,1)" font-size="6.6" text-anchor="end" fill="#222" stroke="#222" stroke-width="0.05">221</text>
<text transform="translate(273.30,351.50) scale(0.93,1)" font-size="6.6" text-anchor="end" fill="#222" stroke="#222" stroke-width="0.05">189</text>
<text transform="translate(286.30,351.50) scale(0.93,1)" font-size="6.6" text-anchor="end" fill="#222" stroke="#222" stroke-width="0.05">167</text>
<text transform="translate(299.30,351.50) scale(0.93,1)" font-size="6.6" text-anchor="end" fill="#222" stroke="#222" stroke-width="0.05">128</text>
<text transform="translate(312.30,351.50) scale(0.93,1)" font-size="6.6" text-anchor="end" fill="#222" stroke="#222" stroke-width="0.05">116</text>
<text transform="translate(325.30,351.50) scale(0.93,1)" font-size="6.6" text-anchor="end" fill="#222" stroke="#222" stroke-width="0.05">110</text>
<text transform="translate(339.10,351.50) scale(0.93,1)" font-size="6.6" text-anchor="end" fill="#222" stroke="#222" stroke-width="0.05">102</text>
<text transform="translate(206.00,361.80) scale(0.93,1)" font-size="6.6" text-anchor="end" fill="#222" stroke="#222" stroke-width="0.05">23</text>
<text transform="translate(217.80,361.80) scale(0.93,1)" font-size="6.6" text-anchor="end" fill="#222" stroke="#222" stroke-width="0.05">14</text>
<text transform="translate(231.30,361.80) scale(0.93,1)" font-size="6.6" text-anchor="end" fill="#222" stroke="#222" stroke-width="0.05">10</text>
<text transform="translate(244.80,361.80) scale(0.93,1)" font-size="6.6" text-anchor="end" fill="#222" stroke="#222" stroke-width="0.05">7</text>
<text transform="translate(258.40,361.80) scale(0.93,1)" font-size="6.6" text-anchor="end" fill="#222" stroke="#222" stroke-width="0.05">6</text>
<text transform="translate(271.80,361.80) scale(0.93,1)" font-size="6.6" text-anchor="end" fill="#222" stroke="#222" stroke-width="0.05">6</text>
<text transform="translate(285.20,361.80) scale(0.93,1)" font-size="6.6" text-anchor="end" fill="#222" stroke="#222" stroke-width="0.05">6</text>
<text transform="translate(298.70,361.80) scale(0.93,1)" font-size="6.6" text-anchor="end" fill="#222" stroke="#222" stroke-width="0.05">4</text>
<text transform="translate(312.20,361.80) scale(0.93,1)" font-size="6.6" text-anchor="end" fill="#222" stroke="#222" stroke-width="0.05">4</text>
<text transform="translate(325.60,361.80) scale(0.93,1)" font-size="6.6" text-anchor="end" fill="#222" stroke="#222" stroke-width="0.05">4</text>
<text transform="translate(339.10,361.80) scale(0.93,1)" font-size="6.6" text-anchor="end" fill="#222" stroke="#222" stroke-width="0.05">4</text>
<line x1="193.50" y1="365.40" x2="339.70" y2="365.40" stroke="#111" stroke-width="1.1"/>
<text x="352.90" y="198.40" font-size="11.6" fill="#000" font-weight="bold" stroke="#000" stroke-width="0.05">F</text>
<line x1="382.40" y1="195.70" x2="390.70" y2="195.70" stroke="#333" stroke-width="1.4"/>
<text x="398.30" y="198.70" font-size="7.3" fill="#222" font-style="italic" stroke="#222" stroke-width="0.05">PTPN11-wt</text>
<line x1="445.20" y1="195.70" x2="453.50" y2="195.70" stroke="#3cb44b" stroke-width="1.4"/>
<text x="461.50" y="198.70" font-size="7.2" fill="#222" font-style="italic" stroke="#222" stroke-width="0.05">PTPN11-mut</text>
<line x1="376.10" y1="209.30" x2="378.90" y2="209.30" stroke="#222" stroke-width="1.1"/>
<text x="375.10" y="211.80" font-size="7.2" text-anchor="end" fill="#222" stroke="#222" stroke-width="0.05">1.00</text>
<line x1="376.10" y1="234.90" x2="378.90" y2="234.90" stroke="#222" stroke-width="1.1"/>
<text x="375.10" y="237.40" font-size="7.2" text-anchor="end" fill="#222" stroke="#222" stroke-width="0.05">0.75</text>
<line x1="376.10" y1="260.50" x2="378.90" y2="260.50" stroke="#222" stroke-width="1.1"/>
<text x="375.10" y="263.00" font-size="7.2" text-anchor="end" fill="#222" stroke="#222" stroke-width="0.05">0.50</text>
<line x1="376.10" y1="286.10" x2="378.90" y2="286.10" stroke="#222" stroke-width="1.1"/>
<text x="375.10" y="288.60" font-size="7.2" text-anchor="end" fill="#222" stroke="#222" stroke-width="0.05">0.25</text>
<line x1="376.10" y1="311.70" x2="378.90" y2="311.70" stroke="#222" stroke-width="1.1"/>
<text x="375.10" y="314.20" font-size="7.2" text-anchor="end" fill="#222" stroke="#222" stroke-width="0.05">0.00</text>
<line x1="384.80" y1="317.30" x2="384.80" y2="319.40" stroke="#222" stroke-width="1.1"/>
<text x="384.80" y="326.70" font-size="7.2" text-anchor="middle" fill="#222" stroke="#222" stroke-width="0.05">0</text>
<line x1="396.90" y1="317.30" x2="396.90" y2="319.40" stroke="#222" stroke-width="1.1"/>
<text x="396.90" y="326.70" font-size="7.2" text-anchor="middle" fill="#222" stroke="#222" stroke-width="0.05">6</text>
<line x1="409.00" y1="317.30" x2="409.00" y2="319.40" stroke="#222" stroke-width="1.1"/>
<text x="409.00" y="326.70" font-size="7.2" text-anchor="middle" fill="#222" stroke="#222" stroke-width="0.05">12</text>
<line x1="421.10" y1="317.30" x2="421.10" y2="319.40" stroke="#222" stroke-width="1.1"/>
<text x="421.10" y="326.70" font-size="7.2" text-anchor="middle" fill="#222" stroke="#222" stroke-width="0.05">18</text>
<line x1="433.20" y1="317.30" x2="433.20" y2="319.40" stroke="#222" stroke-width="1.1"/>
<text x="433.20" y="326.70" font-size="7.2" text-anchor="middle" fill="#222" stroke="#222" stroke-width="0.05">24</text>
<line x1="445.30" y1="317.30" x2="445.30" y2="319.40" stroke="#222" stroke-width="1.1"/>
<text x="445.30" y="326.70" font-size="7.2" text-anchor="middle" fill="#222" stroke="#222" stroke-width="0.05">30</text>
<line x1="457.40" y1="317.30" x2="457.40" y2="319.40" stroke="#222" stroke-width="1.1"/>
<text x="457.40" y="326.70" font-size="7.2" text-anchor="middle" fill="#222" stroke="#222" stroke-width="0.05">36</text>
<line x1="469.50" y1="317.30" x2="469.50" y2="319.40" stroke="#222" stroke-width="1.1"/>
<text x="469.50" y="326.70" font-size="7.2" text-anchor="middle" fill="#222" stroke="#222" stroke-width="0.05">42</text>
<line x1="481.60" y1="317.30" x2="481.60" y2="319.40" stroke="#222" stroke-width="1.1"/>
<text x="481.60" y="326.70" font-size="7.2" text-anchor="middle" fill="#222" stroke="#222" stroke-width="0.05">48</text>
<line x1="493.70" y1="317.30" x2="493.70" y2="319.40" stroke="#222" stroke-width="1.1"/>
<text x="493.70" y="326.70" font-size="7.2" text-anchor="middle" fill="#222" stroke="#222" stroke-width="0.05">54</text>
<line x1="505.80" y1="317.30" x2="505.80" y2="319.40" stroke="#222" stroke-width="1.1"/>
<text x="505.80" y="326.70" font-size="7.2" text-anchor="middle" fill="#222" stroke="#222" stroke-width="0.05">60</text>
<text transform="translate(443.30,335.90) scale(0.655,1)" font-size="9.4" text-anchor="middle" fill="#111" stroke="#111" stroke-width="0.38" stroke="#111" stroke-width="0.05">Months</text>
<text transform="translate(356.30,260.50) rotate(-90) scale(0.645,1)" font-size="9.8" text-anchor="middle" fill="#111" stroke="#111" stroke-width="0.25" stroke="#111" stroke-width="0.05">OS probability</text>
<polyline points="385.20,209.30 387.90,224.40 392.20,236.30 395.00,249.20 399.80,256.80 402.00,264.30 402.90,271.50 405.80,275.90 409.40,278.00 411.50,283.10 418.80,285.70 426.00,291.00 430.30,293.90 440.00,294.30 445.40,294.60 450.80,296.50 456.90,296.90 467.70,298.80 481.50,298.80 485.40,301.50 512.30,301.50" fill="none" stroke="#2a2a2a" stroke-width="1.15" stroke-linejoin="round"/>
<polyline points="385.20,209.30 387.40,224.40 391.70,224.40 391.70,229.30 396.60,229.30 396.60,239.50 398.70,239.50 398.70,245.50 399.80,245.50 399.80,255.20 402.50,255.20 402.50,260.60 403.60,260.60 403.60,265.50 407.20,265.50 407.20,275.10 410.10,275.10 410.10,286.30 416.60,286.30 416.60,296.80 418.80,296.80 418.80,302.10 512.30,302.10" fill="none" stroke="#3cb44b" stroke-width="1.25" stroke-linejoin="round"/>
<rect x="379.00" y="204.50" width="133.3" height="112.8" fill="none" stroke="#000" stroke-width="1.1"/>
<text x="481.10" y="214.50" font-size="6.72" text-anchor="middle" fill="#222" stroke="#222" stroke-width="0.05">Overall Survival</text>
<text x="481.10" y="222.00" font-size="6.72" text-anchor="middle" fill="#222" stroke="#222" stroke-width="0.05">ELN-2017 Adv.</text>
<text x="392.20" y="294.50" font-size="7.4" fill="#222" stroke="#222" stroke-width="0.05"><tspan font-style="italic">P</tspan><tspan dx="-0.6">=0.9</tspan></text>
<text x="353.50" y="341.80" font-size="6.8" fill="#222" stroke="#222" stroke-width="0.05">No. at risk</text>
<text x="353.10" y="351.50" font-size="6.0" fill="#222" stroke="#222" stroke-width="0.05">wt</text>
<text x="353.10" y="361.80" font-size="6.0" fill="#3cb44b" stroke="#3cb44b" stroke-width="0.05">mut</text>
<text transform="translate(379.00,351.50) scale(0.93,1)" font-size="6.6" text-anchor="end" fill="#222" stroke="#222" stroke-width="0.05">253</text>
<text transform="translate(395.50,351.50) scale(0.93,1)" font-size="6.6" text-anchor="end" fill="#222" stroke="#222" stroke-width="0.05">141</text>
<text transform="translate(408.80,351.50) scale(0.93,1)" font-size="6.6" text-anchor="end" fill="#222" stroke="#222" stroke-width="0.05">81</text>
<text transform="translate(421.50,351.50) scale(0.93,1)" font-size="6.6" text-anchor="end" fill="#222" stroke="#222" stroke-width="0.05">56</text>
<text transform="translate(434.00,351.50) scale(0.93,1)" font-size="6.6" text-anchor="end" fill="#222" stroke="#222" stroke-width="0.05">42</text>
<text transform="translate(446.30,351.50) scale(0.93,1)" font-size="6.6" text-anchor="end" fill="#222" stroke="#222" stroke-width="0.05">41</text>
<text transform="translate(459.30,351.50) scale(0.93,1)" font-size="6.6" text-anchor="end" fill="#222" stroke="#222" stroke-width="0.05">32</text>
<text transform="translate(472.30,351.50) scale(0.93,1)" font-size="6.6" text-anchor="end" fill="#222" stroke="#222" stroke-width="0.05">21</text>
<text transform="translate(485.30,351.50) scale(0.93,1)" font-size="6.6" text-anchor="end" fill="#222" stroke="#222" stroke-width="0.05">19</text>
<text transform="translate(498.30,351.50) scale(0.93,1)" font-size="6.6" text-anchor="end" fill="#222" stroke="#222" stroke-width="0.05">16</text>
<text transform="translate(512.10,351.50) scale(0.93,1)" font-size="6.6" text-anchor="end" fill="#222" stroke="#222" stroke-width="0.05">16</text>
<text transform="translate(379.00,361.80) scale(0.93,1)" font-size="6.6" text-anchor="end" fill="#222" stroke="#222" stroke-width="0.05">20</text>
<text transform="translate(390.80,361.80) scale(0.93,1)" font-size="6.6" text-anchor="end" fill="#222" stroke="#222" stroke-width="0.05">14</text>
<text transform="translate(404.30,361.80) scale(0.93,1)" font-size="6.6" text-anchor="end" fill="#222" stroke="#222" stroke-width="0.05">7</text>
<text transform="translate(417.80,361.80) scale(0.93,1)" font-size="6.6" text-anchor="end" fill="#222" stroke="#222" stroke-width="0.05">2</text>
<text transform="translate(431.40,361.80) scale(0.93,1)" font-size="6.6" text-anchor="end" fill="#222" stroke="#222" stroke-width="0.05">2</text>
<text transform="translate(444.80,361.80) scale(0.93,1)" font-size="6.6" text-anchor="end" fill="#222" stroke="#222" stroke-width="0.05">2</text>
<text transform="translate(458.20,361.80) scale(0.93,1)" font-size="6.6" text-anchor="end" fill="#222" stroke="#222" stroke-width="0.05">2</text>
<text transform="translate(471.70,361.80) scale(0.93,1)" font-size="6.6" text-anchor="end" fill="#222" stroke="#222" stroke-width="0.05">2</text>
<text transform="translate(485.20,361.80) scale(0.93,1)" font-size="6.6" text-anchor="end" fill="#222" stroke="#222" stroke-width="0.05">2</text>
<text transform="translate(498.60,361.80) scale(0.93,1)" font-size="6.6" text-anchor="end" fill="#222" stroke="#222" stroke-width="0.05">2</text>
<text transform="translate(512.10,361.80) scale(0.93,1)" font-size="6.6" text-anchor="end" fill="#222" stroke="#222" stroke-width="0.05">2</text>
<line x1="366.50" y1="365.40" x2="512.70" y2="365.40" stroke="#111" stroke-width="1.1"/>
<text x="7.70" y="393.80" font-size="11.6" fill="#000" font-weight="bold" stroke="#000" stroke-width="0.05">G</text>
<text x="7.80" y="413.10" font-size="6.95" fill="#1a1a1a" stroke="#1a1a1a" stroke-width="0.05">Age (per 1 yr. incr.)</text>
<text x="7.80" y="425.40" font-size="6.95" fill="#1a1a1a" stroke="#1a1a1a" stroke-width="0.05">ELN-2017 Adverse</text>
<text x="7.80" y="436.70" font-size="6.95" fill="#1a1a1a" stroke="#1a1a1a" stroke-width="0.05">ELN-2017 Favorable</text>
<text x="10.00" y="448.60" font-size="6.95" fill="#1a1a1a" stroke="#1a1a1a" stroke-width="0.05">sAML</text>
<text x="10.00" y="460.10" font-size="6.95" fill="#1a1a1a" stroke="#1a1a1a" stroke-width="0.05">tAML</text>
<text x="7.80" y="473.50" font-size="6.95" word-spacing="0.9" fill="#1a1a1a" stroke="#1a1a1a" stroke-width="0.05">ECOG &gt; 1</text>
<text x="8.00" y="485.70" font-size="7.0" fill="#3cb44b" font-style="italic" stroke="#3cb44b" stroke-width="0.05">PTPN11-mut</text>
<text x="8.00" y="497.00" font-size="7.0" fill="#1f5a96" font-style="italic" stroke="#1f5a96" stroke-width="0.05">PTPN11-sub</text>
<text x="8.00" y="508.30" font-size="7.0" fill="#cc1b3b" font-style="italic" stroke="#cc1b3b" stroke-width="0.05">PTPN11-dom</text>
<line x1="12.50" y1="417.00" x2="510.50" y2="417.00" stroke="#c8c8c8" stroke-width="1.0"/>
<line x1="12.50" y1="440.80" x2="510.50" y2="440.80" stroke="#c8c8c8" stroke-width="1.0"/>
<line x1="12.50" y1="465.20" x2="510.50" y2="465.20" stroke="#c8c8c8" stroke-width="1.0"/>
<line x1="12.50" y1="477.30" x2="510.50" y2="477.30" stroke="#c8c8c8" stroke-width="1.0"/>
<text x="124.60" y="390.30" font-size="6.9" text-anchor="middle" fill="#1a1a1a" stroke="#1a1a1a" stroke-width="0.05">Hazard Ratio (95% CI)</text>
<text x="124.60" y="398.20" font-size="6.9" text-anchor="middle" fill="#1a1a1a" stroke="#1a1a1a" stroke-width="0.05">for OS</text>
<text x="179.60" y="402.00" font-size="7.2" text-anchor="middle" font-style="italic" fill="#1a1a1a" stroke="#1a1a1a" stroke-width="0.05">P</text>
<text x="190.40" y="413.10" font-size="7.2" text-anchor="end" fill="#1a1a1a" stroke="#1a1a1a" stroke-width="0.05">&lt;0.001</text>
<text x="190.40" y="425.40" font-size="7.2" text-anchor="end" fill="#1a1a1a" stroke="#1a1a1a" stroke-width="0.05">&lt;0.001</text>
<text x="190.40" y="436.70" font-size="7.2" text-anchor="end" fill="#1a1a1a" stroke="#1a1a1a" stroke-width="0.05">&lt;0.001</text>
<text x="190.40" y="448.60" font-size="7.2" text-anchor="end" fill="#1a1a1a" stroke="#1a1a1a" stroke-width="0.05">0.213</text>
<text x="190.40" y="460.10" font-size="7.2" text-anchor="end" fill="#1a1a1a" stroke="#1a1a1a" stroke-width="0.05">0.813</text>
<text x="190.40" y="473.50" font-size="7.2" text-anchor="end" fill="#1a1a1a" stroke="#1a1a1a" stroke-width="0.05">&lt;0.001</text>
<text x="190.40" y="485.70" font-size="7.2" text-anchor="end" fill="#1a1a1a" stroke="#1a1a1a" stroke-width="0.05">&lt;0.001</text>
<text x="190.40" y="497.00" font-size="7.2" text-anchor="end" fill="#1a1a1a" stroke="#1a1a1a" stroke-width="0.05">&lt;0.001</text>
<text x="190.40" y="508.30" font-size="7.2" text-anchor="end" fill="#1a1a1a" stroke="#1a1a1a" stroke-width="0.05">0.775</text>
<line x1="122.44" y1="405.50" x2="122.44" y2="517.80" stroke="#aaa" stroke-width="0.8"/>
<line x1="94.90" y1="519.70" x2="163.50" y2="519.70" stroke="#111" stroke-width="1.2"/>
<line x1="95.40" y1="519.50" x2="95.40" y2="521.90" stroke="#111" stroke-width="1.0"/>
<text x="95.10" y="530.40" font-size="7.2" text-anchor="middle" fill="#1a1a1a" stroke="#1a1a1a" stroke-width="0.05">0.0</text>
<line x1="108.92" y1="519.50" x2="108.92" y2="521.90" stroke="#111" stroke-width="1.0"/>
<text x="108.62" y="530.40" font-size="7.2" text-anchor="middle" fill="#1a1a1a" stroke="#1a1a1a" stroke-width="0.05">0.5</text>
<line x1="122.44" y1="519.50" x2="122.44" y2="521.90" stroke="#111" stroke-width="1.0"/>
<text x="122.14" y="530.40" font-size="7.2" text-anchor="middle" fill="#1a1a1a" stroke="#1a1a1a" stroke-width="0.05">1.0</text>
<line x1="135.96" y1="519.50" x2="135.96" y2="521.90" stroke="#111" stroke-width="1.0"/>
<text x="135.66" y="530.40" font-size="7.2" text-anchor="middle" fill="#1a1a1a" stroke="#1a1a1a" stroke-width="0.05">1.5</text>
<line x1="149.48" y1="519.50" x2="149.48" y2="521.90" stroke="#111" stroke-width="1.0"/>
<text x="149.18" y="530.40" font-size="7.2" text-anchor="middle" fill="#1a1a1a" stroke="#1a1a1a" stroke-width="0.05">2.0</text>
<line x1="163.00" y1="519.50" x2="163.00" y2="521.90" stroke="#111" stroke-width="1.0"/>
<text x="162.70" y="530.40" font-size="7.2" text-anchor="middle" fill="#1a1a1a" stroke="#1a1a1a" stroke-width="0.05">2.5</text>
<line x1="101.40" y1="537.0" x2="118.40" y2="537.0" stroke="#111" stroke-width="1.5"/>
<polygon points="96.40,537.0 103.20,534.2 103.20,539.8" fill="#111"/>
<line x1="138.80" y1="537.0" x2="156.00" y2="537.0" stroke="#111" stroke-width="1.5"/>
<polygon points="160.90,537.0 154.10,534.2 154.10,539.8" fill="#111"/>
<text x="107.40" y="547.80" font-size="6.9" text-anchor="middle" fill="#1a1a1a" stroke="#1a1a1a" stroke-width="0.05">lower risk</text>
<text x="149.70" y="547.80" font-size="6.9" text-anchor="middle" fill="#1a1a1a" stroke="#1a1a1a" stroke-width="0.05">higher risk</text>
<rect x="120.55" y="408.45" width="4.9" height="4.9" fill="#111"/>
<line x1="136.90" y1="423.00" x2="154.70" y2="423.00" stroke="#111" stroke-width="0.9"/>
<circle cx="136.90" cy="423.00" r="1.05" fill="#111"/>
<circle cx="154.70" cy="423.00" r="1.05" fill="#111"/>
<rect x="142.35" y="420.55" width="4.9" height="4.9" fill="#111"/>
<line x1="106.30" y1="435.50" x2="112.20" y2="435.50" stroke="#111" stroke-width="0.9"/>
<circle cx="106.30" cy="435.50" r="1.05" fill="#111"/>
<circle cx="112.20" cy="435.50" r="1.05" fill="#111"/>
<rect x="106.75" y="433.05" width="4.9" height="4.9" fill="#111"/>
<line x1="120.30" y1="447.10" x2="132.90" y2="447.10" stroke="#111" stroke-width="0.9"/>
<circle cx="120.30" cy="447.10" r="1.05" fill="#111"/>
<circle cx="132.90" cy="447.10" r="1.05" fill="#111"/>
<rect x="123.45" y="444.65" width="4.9" height="4.9" fill="#111"/>
<line x1="111.90" y1="459.00" x2="134.90" y2="459.00" stroke="#111" stroke-width="0.9"/>
<circle cx="111.90" cy="459.00" r="1.05" fill="#111"/>
<circle cx="134.90" cy="459.00" r="1.05" fill="#111"/>
<rect x="118.45" y="456.55" width="4.9" height="4.9" fill="#111"/>
<line x1="133.80" y1="471.20" x2="146.10" y2="471.20" stroke="#111" stroke-width="0.9"/>
<circle cx="133.80" cy="471.20" r="1.05" fill="#111"/>
<circle cx="146.10" cy="471.20" r="1.05" fill="#111"/>
<rect x="136.65" y="468.75" width="4.9" height="4.9" fill="#111"/>
<line x1="131.90" y1="483.60" x2="156.60" y2="483.60" stroke="#3cb44b" stroke-width="0.9"/>
<circle cx="131.90" cy="483.60" r="1.05" fill="#3cb44b"/>
<circle cx="156.60" cy="483.60" r="1.05" fill="#3cb44b"/>
<rect x="140.15" y="481.15" width="4.9" height="4.9" fill="#3cb44b"/>
<line x1="141.10" y1="495.50" x2="163.00" y2="495.50" stroke="#1f5a96" stroke-width="0.9"/>
<circle cx="141.10" cy="495.50" r="1.05" fill="#1f5a96"/>
<rect x="154.75" y="493.05" width="4.9" height="4.9" fill="#1f5a96"/>
<line x1="113.90" y1="507.30" x2="142.60" y2="507.30" stroke="#cc1b3b" stroke-width="0.9"/>
<circle cx="113.90" cy="507.30" r="1.05" fill="#cc1b3b"/>
<circle cx="142.60" cy="507.30" r="1.05" fill="#cc1b3b"/>
<rect x="122.05" y="504.85" width="4.9" height="4.9" fill="#cc1b3b"/>
<text x="229.70" y="390.30" font-size="6.9" text-anchor="middle" fill="#1a1a1a" stroke="#1a1a1a" stroke-width="0.05">Hazard Ratio (95% CI)</text>
<text x="229.70" y="398.20" font-size="6.9" text-anchor="middle" fill="#1a1a1a" stroke="#1a1a1a" stroke-width="0.05">for RFS</text>
<text x="284.80" y="402.00" font-size="7.2" text-anchor="middle" font-style="italic" fill="#1a1a1a" stroke="#1a1a1a" stroke-width="0.05">P</text>
<text x="295.60" y="413.10" font-size="7.2" text-anchor="end" fill="#1a1a1a" stroke="#1a1a1a" stroke-width="0.05">&lt;0.001</text>
<text x="295.60" y="425.40" font-size="7.2" text-anchor="end" fill="#1a1a1a" stroke="#1a1a1a" stroke-width="0.05">&lt;0.001</text>
<text x="295.60" y="436.70" font-size="7.2" text-anchor="end" fill="#1a1a1a" stroke="#1a1a1a" stroke-width="0.05">&lt;0.001</text>
<text x="295.60" y="448.60" font-size="7.2" text-anchor="end" fill="#1a1a1a" stroke="#1a1a1a" stroke-width="0.05">0.914</text>
<text x="295.60" y="460.10" font-size="7.2" text-anchor="end" fill="#1a1a1a" stroke="#1a1a1a" stroke-width="0.05">0.443</text>
<text x="295.60" y="473.50" font-size="7.2" text-anchor="end" fill="#1a1a1a" stroke="#1a1a1a" stroke-width="0.05">0.004</text>
<text x="295.60" y="485.70" font-size="7.2" text-anchor="end" fill="#1a1a1a" stroke="#1a1a1a" stroke-width="0.05">0.013</text>
<text x="295.60" y="497.00" font-size="7.2" text-anchor="end" fill="#1a1a1a" stroke="#1a1a1a" stroke-width="0.05">&lt;0.001</text>
<text x="295.60" y="508.30" font-size="7.2" text-anchor="end" fill="#1a1a1a" stroke="#1a1a1a" stroke-width="0.05">0.791</text>
<line x1="227.88" y1="405.50" x2="227.88" y2="517.80" stroke="#aaa" stroke-width="0.8"/>
<line x1="200.30" y1="519.70" x2="269.00" y2="519.70" stroke="#111" stroke-width="1.2"/>
<line x1="200.80" y1="519.50" x2="200.80" y2="521.90" stroke="#111" stroke-width="1.0"/>
<text x="200.50" y="530.40" font-size="7.2" text-anchor="middle" fill="#1a1a1a" stroke="#1a1a1a" stroke-width="0.05">0.0</text>
<line x1="214.34" y1="519.50" x2="214.34" y2="521.90" stroke="#111" stroke-width="1.0"/>
<text x="214.04" y="530.40" font-size="7.2" text-anchor="middle" fill="#1a1a1a" stroke="#1a1a1a" stroke-width="0.05">0.5</text>
<line x1="227.88" y1="519.50" x2="227.88" y2="521.90" stroke="#111" stroke-width="1.0"/>
<text x="227.58" y="530.40" font-size="7.2" text-anchor="middle" fill="#1a1a1a" stroke="#1a1a1a" stroke-width="0.05">1.0</text>
<line x1="241.42" y1="519.50" x2="241.42" y2="521.90" stroke="#111" stroke-width="1.0"/>
<text x="241.12" y="530.40" font-size="7.2" text-anchor="middle" fill="#1a1a1a" stroke="#1a1a1a" stroke-width="0.05">1.5</text>
<line x1="254.96" y1="519.50" x2="254.96" y2="521.90" stroke="#111" stroke-width="1.0"/>
<text x="254.66" y="530.40" font-size="7.2" text-anchor="middle" fill="#1a1a1a" stroke="#1a1a1a" stroke-width="0.05">2.0</text>
<line x1="268.50" y1="519.50" x2="268.50" y2="521.90" stroke="#111" stroke-width="1.0"/>
<text x="268.20" y="530.40" font-size="7.2" text-anchor="middle" fill="#1a1a1a" stroke="#1a1a1a" stroke-width="0.05">2.5</text>
<line x1="206.80" y1="537.0" x2="223.80" y2="537.0" stroke="#111" stroke-width="1.5"/>
<polygon points="201.80,537.0 208.60,534.2 208.60,539.8" fill="#111"/>
<line x1="244.30" y1="537.0" x2="261.50" y2="537.0" stroke="#111" stroke-width="1.5"/>
<polygon points="266.40,537.0 259.60,534.2 259.60,539.8" fill="#111"/>
<text x="212.80" y="547.80" font-size="6.9" text-anchor="middle" fill="#1a1a1a" stroke="#1a1a1a" stroke-width="0.05">lower risk</text>
<text x="255.40" y="547.80" font-size="6.9" text-anchor="middle" fill="#1a1a1a" stroke="#1a1a1a" stroke-width="0.05">higher risk</text>
<rect x="225.65" y="408.45" width="4.9" height="4.9" fill="#111"/>
<line x1="239.70" y1="423.00" x2="263.50" y2="423.00" stroke="#111" stroke-width="0.9"/>
<circle cx="239.70" cy="423.00" r="1.05" fill="#111"/>
<circle cx="263.50" cy="423.00" r="1.05" fill="#111"/>
<rect x="247.95" y="420.55" width="4.9" height="4.9" fill="#111"/>
<line x1="214.20" y1="435.50" x2="221.10" y2="435.50" stroke="#111" stroke-width="0.9"/>
<circle cx="214.20" cy="435.50" r="1.05" fill="#111"/>
<circle cx="221.10" cy="435.50" r="1.05" fill="#111"/>
<rect x="214.55" y="433.05" width="4.9" height="4.9" fill="#111"/>
<line x1="221.50" y1="447.10" x2="237.00" y2="447.10" stroke="#111" stroke-width="0.9"/>
<circle cx="221.50" cy="447.10" r="1.05" fill="#111"/>
<circle cx="237.00" cy="447.10" r="1.05" fill="#111"/>
<rect x="225.35" y="444.65" width="4.9" height="4.9" fill="#111"/>
<line x1="212.90" y1="459.00" x2="238.50" y2="459.00" stroke="#111" stroke-width="0.9"/>
<circle cx="212.90" cy="459.00" r="1.05" fill="#111"/>
<circle cx="238.50" cy="459.00" r="1.05" fill="#111"/>
<rect x="219.35" y="456.55" width="4.9" height="4.9" fill="#111"/>
<line x1="230.10" y1="471.20" x2="243.70" y2="471.20" stroke="#111" stroke-width="0.9"/>
<circle cx="230.10" cy="471.20" r="1.05" fill="#111"/>
<circle cx="243.70" cy="471.20" r="1.05" fill="#111"/>
<rect x="233.35" y="468.75" width="4.9" height="4.9" fill="#111"/>
<line x1="231.10" y1="483.60" x2="257.60" y2="483.60" stroke="#3cb44b" stroke-width="0.9"/>
<circle cx="231.10" cy="483.60" r="1.05" fill="#3cb44b"/>
<circle cx="257.60" cy="483.60" r="1.05" fill="#3cb44b"/>
<rect x="239.25" y="481.15" width="4.9" height="4.9" fill="#3cb44b"/>
<line x1="240.10" y1="495.50" x2="267.00" y2="495.50" stroke="#1f5a96" stroke-width="0.9"/>
<circle cx="240.10" cy="495.50" r="1.05" fill="#1f5a96"/>
<rect x="256.65" y="493.05" width="4.9" height="4.9" fill="#1f5a96"/>
<line x1="215.10" y1="507.30" x2="244.50" y2="507.30" stroke="#cc1b3b" stroke-width="0.9"/>
<circle cx="215.10" cy="507.30" r="1.05" fill="#cc1b3b"/>
<circle cx="244.50" cy="507.30" r="1.05" fill="#cc1b3b"/>
<rect x="223.15" y="504.85" width="4.9" height="4.9" fill="#cc1b3b"/>
<text x="332.50" y="390.30" font-size="6.9" text-anchor="middle" fill="#1a1a1a" stroke="#1a1a1a" stroke-width="0.05">Odds Ratio (95% CI)</text>
<text x="332.50" y="398.20" font-size="6.9" text-anchor="middle" fill="#1a1a1a" stroke="#1a1a1a" stroke-width="0.05">for CR1</text>
<text x="397.50" y="402.00" font-size="7.2" text-anchor="middle" font-style="italic" fill="#1a1a1a" stroke="#1a1a1a" stroke-width="0.05">P</text>
<text x="408.30" y="413.10" font-size="7.2" text-anchor="end" fill="#1a1a1a" stroke="#1a1a1a" stroke-width="0.05">&lt;0.001</text>
<text x="408.30" y="425.40" font-size="7.2" text-anchor="end" fill="#1a1a1a" stroke="#1a1a1a" stroke-width="0.05">&lt;0.001</text>
<text x="408.30" y="436.70" font-size="7.2" text-anchor="end" fill="#1a1a1a" stroke="#1a1a1a" stroke-width="0.05">&lt;0.001</text>
<text x="408.30" y="448.60" font-size="7.2" text-anchor="end" fill="#1a1a1a" stroke="#1a1a1a" stroke-width="0.05">0044</text>
<text x="408.30" y="460.10" font-size="7.2" text-anchor="end" fill="#1a1a1a" stroke="#1a1a1a" stroke-width="0.05">0.751</text>
<text x="408.30" y="473.50" font-size="7.2" text-anchor="end" fill="#1a1a1a" stroke="#1a1a1a" stroke-width="0.05">0.004</text>
<text x="408.30" y="485.70" font-size="7.2" text-anchor="end" fill="#1a1a1a" stroke="#1a1a1a" stroke-width="0.05">0.008</text>
<text x="408.30" y="497.00" font-size="7.2" text-anchor="end" fill="#1a1a1a" stroke="#1a1a1a" stroke-width="0.05">0.007</text>
<text x="408.30" y="508.30" font-size="7.2" text-anchor="end" fill="#1a1a1a" stroke="#1a1a1a" stroke-width="0.05">0.428</text>
<line x1="326.48" y1="405.50" x2="326.48" y2="517.80" stroke="#aaa" stroke-width="0.8"/>
<line x1="309.10" y1="519.70" x2="377.60" y2="519.70" stroke="#111" stroke-width="1.2"/>
<line x1="309.60" y1="519.50" x2="309.60" y2="521.90" stroke="#111" stroke-width="1.0"/>
<text x="309.30" y="530.40" font-size="7.2" text-anchor="middle" fill="#1a1a1a" stroke="#1a1a1a" stroke-width="0.05">0</text>
<line x1="326.48" y1="519.50" x2="326.48" y2="521.90" stroke="#111" stroke-width="1.0"/>
<text x="326.18" y="530.40" font-size="7.2" text-anchor="middle" fill="#1a1a1a" stroke="#1a1a1a" stroke-width="0.05">1</text>
<line x1="343.35" y1="519.50" x2="343.35" y2="521.90" stroke="#111" stroke-width="1.0"/>
<text x="343.05" y="530.40" font-size="7.2" text-anchor="middle" fill="#1a1a1a" stroke="#1a1a1a" stroke-width="0.05">2</text>
<line x1="360.23" y1="519.50" x2="360.23" y2="521.90" stroke="#111" stroke-width="1.0"/>
<text x="359.93" y="530.40" font-size="7.2" text-anchor="middle" fill="#1a1a1a" stroke="#1a1a1a" stroke-width="0.05">3</text>
<line x1="377.10" y1="519.50" x2="377.10" y2="521.90" stroke="#111" stroke-width="1.0"/>
<text x="376.80" y="530.40" font-size="7.2" text-anchor="middle" fill="#1a1a1a" stroke="#1a1a1a" stroke-width="0.05">4</text>
<line x1="315.60" y1="537.0" x2="332.60" y2="537.0" stroke="#111" stroke-width="1.5"/>
<polygon points="310.60,537.0 317.40,534.2 317.40,539.8" fill="#111"/>
<line x1="352.90" y1="537.0" x2="370.10" y2="537.0" stroke="#111" stroke-width="1.5"/>
<polygon points="375.00,537.0 368.20,534.2 368.20,539.8" fill="#111"/>
<text x="321.60" y="547.80" font-size="6.9" text-anchor="middle" fill="#1a1a1a" stroke="#1a1a1a" stroke-width="0.05">lower odds</text>
<text x="368.00" y="547.80" font-size="6.9" text-anchor="middle" fill="#1a1a1a" stroke="#1a1a1a" stroke-width="0.05">higher odds</text>
<rect x="323.85" y="408.45" width="4.9" height="4.9" fill="#111"/>
<line x1="314.90" y1="423.00" x2="321.20" y2="423.00" stroke="#111" stroke-width="0.9"/>
<circle cx="314.90" cy="423.00" r="1.05" fill="#111"/>
<circle cx="321.20" cy="423.00" r="1.05" fill="#111"/>
<rect x="315.05" y="420.55" width="4.9" height="4.9" fill="#111"/>
<line x1="348.60" y1="435.50" x2="377.50" y2="435.50" stroke="#111" stroke-width="0.9"/>
<circle cx="348.60" cy="435.50" r="1.05" fill="#111"/>
<rect x="363.95" y="433.05" width="4.9" height="4.9" fill="#111"/>
<line x1="317.20" y1="447.10" x2="327.00" y2="447.10" stroke="#111" stroke-width="0.9"/>
<circle cx="317.20" cy="447.10" r="1.05" fill="#111"/>
<circle cx="327.00" cy="447.10" r="1.05" fill="#111"/>
<rect x="318.45" y="444.65" width="4.9" height="4.9" fill="#111"/>
<line x1="316.30" y1="459.00" x2="344.70" y2="459.00" stroke="#111" stroke-width="0.9"/>
<circle cx="316.30" cy="459.00" r="1.05" fill="#111"/>
<circle cx="344.70" cy="459.00" r="1.05" fill="#111"/>
<rect x="322.45" y="456.55" width="4.9" height="4.9" fill="#111"/>
<line x1="315.90" y1="471.20" x2="321.80" y2="471.20" stroke="#111" stroke-width="0.9"/>
<circle cx="315.90" cy="471.20" r="1.05" fill="#111"/>
<circle cx="321.80" cy="471.20" r="1.05" fill="#111"/>
<rect x="315.95" y="468.75" width="4.9" height="4.9" fill="#111"/>
<line x1="313.90" y1="483.60" x2="323.70" y2="483.60" stroke="#3cb44b" stroke-width="0.9"/>
<circle cx="313.90" cy="483.60" r="1.05" fill="#3cb44b"/>
<circle cx="323.70" cy="483.60" r="1.05" fill="#3cb44b"/>
<rect x="313.95" y="481.15" width="4.9" height="4.9" fill="#3cb44b"/>
<line x1="313.60" y1="495.50" x2="322.10" y2="495.50" stroke="#1f5a96" stroke-width="0.9"/>
<circle cx="313.60" cy="495.50" r="1.05" fill="#1f5a96"/>
<circle cx="322.10" cy="495.50" r="1.05" fill="#1f5a96"/>
<rect x="313.65" y="493.05" width="4.9" height="4.9" fill="#1f5a96"/>
<line x1="313.90" y1="507.30" x2="341.20" y2="507.30" stroke="#cc1b3b" stroke-width="0.9"/>
<circle cx="313.90" cy="507.30" r="1.05" fill="#cc1b3b"/>
<circle cx="341.20" cy="507.30" r="1.05" fill="#cc1b3b"/>
<rect x="318.45" y="504.85" width="4.9" height="4.9" fill="#cc1b3b"/>
<text x="445.00" y="390.30" font-size="6.9" text-anchor="middle" fill="#1a1a1a" stroke="#1a1a1a" stroke-width="0.05">Hazard Ratio (95% CI)</text>
<text x="445.00" y="398.20" font-size="6.9" text-anchor="middle" fill="#1a1a1a" stroke="#1a1a1a" stroke-width="0.05">for ED30</text>
<text x="498.60" y="402.00" font-size="7.2" text-anchor="middle" font-style="italic" fill="#1a1a1a" stroke="#1a1a1a" stroke-width="0.05">P</text>
<text x="509.40" y="413.10" font-size="7.2" text-anchor="end" fill="#1a1a1a" stroke="#1a1a1a" stroke-width="0.05">0.034</text>
<text x="509.40" y="425.40" font-size="7.2" text-anchor="end" fill="#1a1a1a" stroke="#1a1a1a" stroke-width="0.05">0.631</text>
<text x="509.40" y="436.70" font-size="7.2" text-anchor="end" fill="#1a1a1a" stroke="#1a1a1a" stroke-width="0.05">0.231</text>
<text x="509.40" y="448.60" font-size="7.2" text-anchor="end" fill="#1a1a1a" stroke="#1a1a1a" stroke-width="0.05">0.156</text>
<text x="509.40" y="460.10" font-size="7.2" text-anchor="end" fill="#1a1a1a" stroke="#1a1a1a" stroke-width="0.05">0.660</text>
<text x="509.40" y="473.50" font-size="7.2" text-anchor="end" fill="#1a1a1a" stroke="#1a1a1a" stroke-width="0.05">&lt;0.001</text>
<text x="509.40" y="485.70" font-size="7.2" text-anchor="end" fill="#1a1a1a" stroke="#1a1a1a" stroke-width="0.05">&lt;0.001</text>
<text x="509.40" y="497.00" font-size="7.2" text-anchor="end" fill="#1a1a1a" stroke="#1a1a1a" stroke-width="0.05">&lt;0.001</text>
<text x="509.40" y="508.30" font-size="7.2" text-anchor="end" fill="#1a1a1a" stroke="#1a1a1a" stroke-width="0.05">0.417</text>
<line x1="428.17" y1="405.50" x2="428.17" y2="517.80" stroke="#aaa" stroke-width="0.8"/>
<line x1="416.50" y1="519.70" x2="484.50" y2="519.70" stroke="#111" stroke-width="1.2"/>
<line x1="417.00" y1="519.50" x2="417.00" y2="521.90" stroke="#111" stroke-width="1.0"/>
<text x="416.70" y="530.40" font-size="7.2" text-anchor="middle" fill="#1a1a1a" stroke="#1a1a1a" stroke-width="0.05">0</text>
<line x1="428.17" y1="519.50" x2="428.17" y2="521.90" stroke="#111" stroke-width="1.0"/>
<text x="427.87" y="530.40" font-size="7.2" text-anchor="middle" fill="#1a1a1a" stroke="#1a1a1a" stroke-width="0.05">1</text>
<line x1="439.33" y1="519.50" x2="439.33" y2="521.90" stroke="#111" stroke-width="1.0"/>
<text x="439.03" y="530.40" font-size="7.2" text-anchor="middle" fill="#1a1a1a" stroke="#1a1a1a" stroke-width="0.05">2</text>
<line x1="450.50" y1="519.50" x2="450.50" y2="521.90" stroke="#111" stroke-width="1.0"/>
<text x="450.20" y="530.40" font-size="7.2" text-anchor="middle" fill="#1a1a1a" stroke="#1a1a1a" stroke-width="0.05">3</text>
<line x1="461.67" y1="519.50" x2="461.67" y2="521.90" stroke="#111" stroke-width="1.0"/>
<text x="461.37" y="530.40" font-size="7.2" text-anchor="middle" fill="#1a1a1a" stroke="#1a1a1a" stroke-width="0.05">4</text>
<line x1="472.83" y1="519.50" x2="472.83" y2="521.90" stroke="#111" stroke-width="1.0"/>
<text x="472.53" y="530.40" font-size="7.2" text-anchor="middle" fill="#1a1a1a" stroke="#1a1a1a" stroke-width="0.05">5</text>
<line x1="484.00" y1="519.50" x2="484.00" y2="521.90" stroke="#111" stroke-width="1.0"/>
<text x="483.70" y="530.40" font-size="7.2" text-anchor="middle" fill="#1a1a1a" stroke="#1a1a1a" stroke-width="0.05">6</text>
<line x1="423.00" y1="537.0" x2="440.00" y2="537.0" stroke="#111" stroke-width="1.5"/>
<polygon points="418.00,537.0 424.80,534.2 424.80,539.8" fill="#111"/>
<line x1="459.80" y1="537.0" x2="477.00" y2="537.0" stroke="#111" stroke-width="1.5"/>
<polygon points="481.90,537.0 475.10,534.2 475.10,539.8" fill="#111"/>
<text x="429.00" y="547.80" font-size="6.9" text-anchor="middle" fill="#1a1a1a" stroke="#1a1a1a" stroke-width="0.05">lower risk</text>
<text x="471.00" y="547.80" font-size="6.9" text-anchor="middle" fill="#1a1a1a" stroke="#1a1a1a" stroke-width="0.05">higher risk</text>
<rect x="425.35" y="408.45" width="4.9" height="4.9" fill="#111"/>
<line x1="421.70" y1="423.00" x2="443.10" y2="423.00" stroke="#111" stroke-width="0.9"/>
<circle cx="421.70" cy="423.00" r="1.05" fill="#111"/>
<circle cx="443.10" cy="423.00" r="1.05" fill="#111"/>
<rect x="427.35" y="420.55" width="4.9" height="4.9" fill="#111"/>
<line x1="420.70" y1="435.50" x2="431.10" y2="435.50" stroke="#111" stroke-width="0.9"/>
<circle cx="420.70" cy="435.50" r="1.05" fill="#111"/>
<circle cx="431.10" cy="435.50" r="1.05" fill="#111"/>
<rect x="421.85" y="433.05" width="4.9" height="4.9" fill="#111"/>
<line x1="425.50" y1="447.10" x2="455.10" y2="447.10" stroke="#111" stroke-width="0.9"/>
<circle cx="425.50" cy="447.10" r="1.05" fill="#111"/>
<circle cx="455.10" cy="447.10" r="1.05" fill="#111"/>
<rect x="433.65" y="444.65" width="4.9" height="4.9" fill="#111"/>
<line x1="417.40" y1="459.00" x2="472.90" y2="459.00" stroke="#111" stroke-width="0.9"/>
<circle cx="417.40" cy="459.00" r="1.05" fill="#111"/>
<circle cx="472.90" cy="459.00" r="1.05" fill="#111"/>
<rect x="421.75" y="456.55" width="4.9" height="4.9" fill="#111"/>
<line x1="449.90" y1="471.20" x2="484.00" y2="471.20" stroke="#111" stroke-width="0.9"/>
<circle cx="449.90" cy="471.20" r="1.05" fill="#111"/>
<rect x="471.85" y="468.75" width="4.9" height="4.9" fill="#111"/>
<line x1="436.30" y1="483.60" x2="483.00" y2="483.60" stroke="#3cb44b" stroke-width="0.9"/>
<circle cx="436.30" cy="483.60" r="1.05" fill="#3cb44b"/>
<rect x="454.75" y="481.15" width="4.9" height="4.9" fill="#3cb44b"/>
<line x1="439.50" y1="495.50" x2="483.60" y2="495.50" stroke="#1f5a96" stroke-width="0.9"/>
<circle cx="439.50" cy="495.50" r="1.05" fill="#1f5a96"/>
<rect x="464.65" y="493.05" width="4.9" height="4.9" fill="#1f5a96"/>
<line x1="421.90" y1="507.30" x2="483.60" y2="507.30" stroke="#cc1b3b" stroke-width="0.9"/>
<circle cx="421.90" cy="507.30" r="1.05" fill="#cc1b3b"/>
<rect x="436.35" y="504.85" width="4.9" height="4.9" fill="#cc1b3b"/>
<rect x="0.5" y="0.5" width="519" height="555" fill="none" stroke="#111" stroke-width="1.2"/>
</svg>
</body></html>
